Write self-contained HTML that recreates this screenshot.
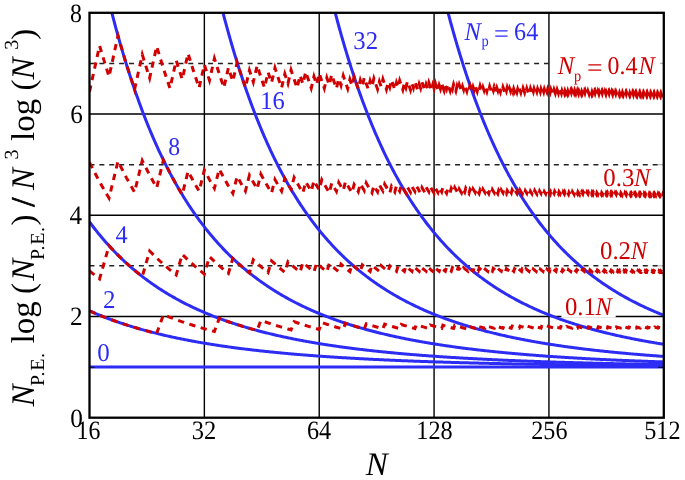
<!DOCTYPE html><html><head><meta charset="utf-8"><style>html,body{margin:0;padding:0;background:#fff;overflow:hidden}svg{display:block;will-change:transform}text{font-family:"Liberation Serif",serif;text-rendering:geometricPrecision}</style></head><body><svg width="685" height="480" viewBox="0 0 685 480"><defs><clipPath id="c"><rect x="89.5" y="12.8" width="574.3" height="404.9"/></clipPath></defs><path d="M204.36 12.8V417.7M319.22 12.8V417.7M434.08 12.8V417.7M548.94 12.8V417.7M89.5 316.48H663.8M89.5 215.25H663.8M89.5 114.03H663.8" stroke="#000" stroke-width="1.4" fill="none"/><path d="M89.5 265.86H663.8M89.5 164.64H663.8M89.5 63.41H663.8" stroke="#222" stroke-width="1.5" stroke-dasharray="5.0 4.88" fill="none"/><path d="M658.2 265.86H662.6M658.2 164.64H662.6M658.2 63.41H662.6" stroke="#b4b4b4" stroke-width="1.3" fill="none"/><rect x="550.3" y="50" width="109.7" height="30" fill="#fff"/><rect x="561.4" y="296" width="54.3" height="21.6" fill="#fff"/><g clip-path="url(#c)" fill="none" stroke="#2c2cf4" stroke-width="3.0"><path d="M89.5 367.09 L90.46 367.09 L91.41 367.09 L92.37 367.09 L93.33 367.09 L94.29 367.09 L95.24 367.09 L96.2 367.09 L97.16 367.09 L98.11 367.09 L99.07 367.09 L100.03 367.09 L100.99 367.09 L101.94 367.09 L102.9 367.09 L103.86 367.09 L104.81 367.09 L105.77 367.09 L106.73 367.09 L107.69 367.09 L108.64 367.09 L109.6 367.09 L110.56 367.09 L111.51 367.09 L112.47 367.09 L113.43 367.09 L114.39 367.09 L115.34 367.09 L116.3 367.09 L117.26 367.09 L118.21 367.09 L119.17 367.09 L120.13 367.09 L121.09 367.09 L122.04 367.09 L123 367.09 L123.96 367.09 L124.92 367.09 L125.87 367.09 L126.83 367.09 L127.79 367.09 L128.74 367.09 L129.7 367.09 L130.66 367.09 L131.62 367.09 L132.57 367.09 L133.53 367.09 L134.49 367.09 L135.44 367.09 L136.4 367.09 L137.36 367.09 L138.32 367.09 L139.27 367.09 L140.23 367.09 L141.19 367.09 L142.14 367.09 L143.1 367.09 L144.06 367.09 L145.02 367.09 L145.97 367.09 L146.93 367.09 L147.89 367.09 L148.84 367.09 L149.8 367.09 L150.76 367.09 L151.72 367.09 L152.67 367.09 L153.63 367.09 L154.59 367.09 L155.54 367.09 L156.5 367.09 L157.46 367.09 L158.42 367.09 L159.37 367.09 L160.33 367.09 L161.29 367.09 L162.24 367.09 L163.2 367.09 L164.16 367.09 L165.12 367.09 L166.07 367.09 L167.03 367.09 L167.99 367.09 L168.94 367.09 L169.9 367.09 L170.86 367.09 L171.82 367.09 L172.77 367.09 L173.73 367.09 L174.69 367.09 L175.64 367.09 L176.6 367.09 L177.56 367.09 L178.52 367.09 L179.47 367.09 L180.43 367.09 L181.39 367.09 L182.35 367.09 L183.3 367.09 L184.26 367.09 L185.22 367.09 L186.17 367.09 L187.13 367.09 L188.09 367.09 L189.05 367.09 L190 367.09 L190.96 367.09 L191.92 367.09 L192.87 367.09 L193.83 367.09 L194.79 367.09 L195.75 367.09 L196.7 367.09 L197.66 367.09 L198.62 367.09 L199.57 367.09 L200.53 367.09 L201.49 367.09 L202.45 367.09 L203.4 367.09 L204.36 367.09 L205.32 367.09 L206.27 367.09 L207.23 367.09 L208.19 367.09 L209.15 367.09 L210.1 367.09 L211.06 367.09 L212.02 367.09 L212.97 367.09 L213.93 367.09 L214.89 367.09 L215.85 367.09 L216.8 367.09 L217.76 367.09 L218.72 367.09 L219.67 367.09 L220.63 367.09 L221.59 367.09 L222.55 367.09 L223.5 367.09 L224.46 367.09 L225.42 367.09 L226.37 367.09 L227.33 367.09 L228.29 367.09 L229.25 367.09 L230.2 367.09 L231.16 367.09 L232.12 367.09 L233.07 367.09 L234.03 367.09 L234.99 367.09 L235.95 367.09 L236.9 367.09 L237.86 367.09 L238.82 367.09 L239.78 367.09 L240.73 367.09 L241.69 367.09 L242.65 367.09 L243.6 367.09 L244.56 367.09 L245.52 367.09 L246.48 367.09 L247.43 367.09 L248.39 367.09 L249.35 367.09 L250.3 367.09 L251.26 367.09 L252.22 367.09 L253.18 367.09 L254.13 367.09 L255.09 367.09 L256.05 367.09 L257 367.09 L257.96 367.09 L258.92 367.09 L259.88 367.09 L260.83 367.09 L261.79 367.09 L262.75 367.09 L263.7 367.09 L264.66 367.09 L265.62 367.09 L266.58 367.09 L267.53 367.09 L268.49 367.09 L269.45 367.09 L270.4 367.09 L271.36 367.09 L272.32 367.09 L273.28 367.09 L274.23 367.09 L275.19 367.09 L276.15 367.09 L277.1 367.09 L278.06 367.09 L279.02 367.09 L279.98 367.09 L280.93 367.09 L281.89 367.09 L282.85 367.09 L283.8 367.09 L284.76 367.09 L285.72 367.09 L286.68 367.09 L287.63 367.09 L288.59 367.09 L289.55 367.09 L290.5 367.09 L291.46 367.09 L292.42 367.09 L293.38 367.09 L294.33 367.09 L295.29 367.09 L296.25 367.09 L297.21 367.09 L298.16 367.09 L299.12 367.09 L300.08 367.09 L301.03 367.09 L301.99 367.09 L302.95 367.09 L303.91 367.09 L304.86 367.09 L305.82 367.09 L306.78 367.09 L307.73 367.09 L308.69 367.09 L309.65 367.09 L310.61 367.09 L311.56 367.09 L312.52 367.09 L313.48 367.09 L314.43 367.09 L315.39 367.09 L316.35 367.09 L317.31 367.09 L318.26 367.09 L319.22 367.09 L320.18 367.09 L321.13 367.09 L322.09 367.09 L323.05 367.09 L324.01 367.09 L324.96 367.09 L325.92 367.09 L326.88 367.09 L327.83 367.09 L328.79 367.09 L329.75 367.09 L330.71 367.09 L331.66 367.09 L332.62 367.09 L333.58 367.09 L334.53 367.09 L335.49 367.09 L336.45 367.09 L337.41 367.09 L338.36 367.09 L339.32 367.09 L340.28 367.09 L341.23 367.09 L342.19 367.09 L343.15 367.09 L344.11 367.09 L345.06 367.09 L346.02 367.09 L346.98 367.09 L347.93 367.09 L348.89 367.09 L349.85 367.09 L350.81 367.09 L351.76 367.09 L352.72 367.09 L353.68 367.09 L354.64 367.09 L355.59 367.09 L356.55 367.09 L357.51 367.09 L358.46 367.09 L359.42 367.09 L360.38 367.09 L361.34 367.09 L362.29 367.09 L363.25 367.09 L364.21 367.09 L365.16 367.09 L366.12 367.09 L367.08 367.09 L368.04 367.09 L368.99 367.09 L369.95 367.09 L370.91 367.09 L371.86 367.09 L372.82 367.09 L373.78 367.09 L374.74 367.09 L375.69 367.09 L376.65 367.09 L377.61 367.09 L378.56 367.09 L379.52 367.09 L380.48 367.09 L381.44 367.09 L382.39 367.09 L383.35 367.09 L384.31 367.09 L385.26 367.09 L386.22 367.09 L387.18 367.09 L388.14 367.09 L389.09 367.09 L390.05 367.09 L391.01 367.09 L391.96 367.09 L392.92 367.09 L393.88 367.09 L394.84 367.09 L395.79 367.09 L396.75 367.09 L397.71 367.09 L398.66 367.09 L399.62 367.09 L400.58 367.09 L401.54 367.09 L402.49 367.09 L403.45 367.09 L404.41 367.09 L405.36 367.09 L406.32 367.09 L407.28 367.09 L408.24 367.09 L409.19 367.09 L410.15 367.09 L411.11 367.09 L412.07 367.09 L413.02 367.09 L413.98 367.09 L414.94 367.09 L415.89 367.09 L416.85 367.09 L417.81 367.09 L418.77 367.09 L419.72 367.09 L420.68 367.09 L421.64 367.09 L422.59 367.09 L423.55 367.09 L424.51 367.09 L425.47 367.09 L426.42 367.09 L427.38 367.09 L428.34 367.09 L429.29 367.09 L430.25 367.09 L431.21 367.09 L432.17 367.09 L433.12 367.09 L434.08 367.09 L435.04 367.09 L435.99 367.09 L436.95 367.09 L437.91 367.09 L438.87 367.09 L439.82 367.09 L440.78 367.09 L441.74 367.09 L442.69 367.09 L443.65 367.09 L444.61 367.09 L445.57 367.09 L446.52 367.09 L447.48 367.09 L448.44 367.09 L449.39 367.09 L450.35 367.09 L451.31 367.09 L452.27 367.09 L453.22 367.09 L454.18 367.09 L455.14 367.09 L456.09 367.09 L457.05 367.09 L458.01 367.09 L458.97 367.09 L459.92 367.09 L460.88 367.09 L461.84 367.09 L462.79 367.09 L463.75 367.09 L464.71 367.09 L465.67 367.09 L466.62 367.09 L467.58 367.09 L468.54 367.09 L469.5 367.09 L470.45 367.09 L471.41 367.09 L472.37 367.09 L473.32 367.09 L474.28 367.09 L475.24 367.09 L476.2 367.09 L477.15 367.09 L478.11 367.09 L479.07 367.09 L480.02 367.09 L480.98 367.09 L481.94 367.09 L482.9 367.09 L483.85 367.09 L484.81 367.09 L485.77 367.09 L486.72 367.09 L487.68 367.09 L488.64 367.09 L489.6 367.09 L490.55 367.09 L491.51 367.09 L492.47 367.09 L493.42 367.09 L494.38 367.09 L495.34 367.09 L496.3 367.09 L497.25 367.09 L498.21 367.09 L499.17 367.09 L500.12 367.09 L501.08 367.09 L502.04 367.09 L503 367.09 L503.95 367.09 L504.91 367.09 L505.87 367.09 L506.82 367.09 L507.78 367.09 L508.74 367.09 L509.7 367.09 L510.65 367.09 L511.61 367.09 L512.57 367.09 L513.52 367.09 L514.48 367.09 L515.44 367.09 L516.4 367.09 L517.35 367.09 L518.31 367.09 L519.27 367.09 L520.22 367.09 L521.18 367.09 L522.14 367.09 L523.1 367.09 L524.05 367.09 L525.01 367.09 L525.97 367.09 L526.93 367.09 L527.88 367.09 L528.84 367.09 L529.8 367.09 L530.75 367.09 L531.71 367.09 L532.67 367.09 L533.63 367.09 L534.58 367.09 L535.54 367.09 L536.5 367.09 L537.45 367.09 L538.41 367.09 L539.37 367.09 L540.33 367.09 L541.28 367.09 L542.24 367.09 L543.2 367.09 L544.15 367.09 L545.11 367.09 L546.07 367.09 L547.03 367.09 L547.98 367.09 L548.94 367.09 L549.9 367.09 L550.85 367.09 L551.81 367.09 L552.77 367.09 L553.73 367.09 L554.68 367.09 L555.64 367.09 L556.6 367.09 L557.55 367.09 L558.51 367.09 L559.47 367.09 L560.43 367.09 L561.38 367.09 L562.34 367.09 L563.3 367.09 L564.25 367.09 L565.21 367.09 L566.17 367.09 L567.13 367.09 L568.08 367.09 L569.04 367.09 L570 367.09 L570.95 367.09 L571.91 367.09 L572.87 367.09 L573.83 367.09 L574.78 367.09 L575.74 367.09 L576.7 367.09 L577.65 367.09 L578.61 367.09 L579.57 367.09 L580.53 367.09 L581.48 367.09 L582.44 367.09 L583.4 367.09 L584.36 367.09 L585.31 367.09 L586.27 367.09 L587.23 367.09 L588.18 367.09 L589.14 367.09 L590.1 367.09 L591.06 367.09 L592.01 367.09 L592.97 367.09 L593.93 367.09 L594.88 367.09 L595.84 367.09 L596.8 367.09 L597.76 367.09 L598.71 367.09 L599.67 367.09 L600.63 367.09 L601.58 367.09 L602.54 367.09 L603.5 367.09 L604.46 367.09 L605.41 367.09 L606.37 367.09 L607.33 367.09 L608.28 367.09 L609.24 367.09 L610.2 367.09 L611.16 367.09 L612.11 367.09 L613.07 367.09 L614.03 367.09 L614.98 367.09 L615.94 367.09 L616.9 367.09 L617.86 367.09 L618.81 367.09 L619.77 367.09 L620.73 367.09 L621.68 367.09 L622.64 367.09 L623.6 367.09 L624.56 367.09 L625.51 367.09 L626.47 367.09 L627.43 367.09 L628.38 367.09 L629.34 367.09 L630.3 367.09 L631.26 367.09 L632.21 367.09 L633.17 367.09 L634.13 367.09 L635.08 367.09 L636.04 367.09 L637 367.09 L637.96 367.09 L638.91 367.09 L639.87 367.09 L640.83 367.09 L641.79 367.09 L642.74 367.09 L643.7 367.09 L644.66 367.09 L645.61 367.09 L646.57 367.09 L647.53 367.09 L648.49 367.09 L649.44 367.09 L650.4 367.09 L651.36 367.09 L652.31 367.09 L653.27 367.09 L654.23 367.09 L655.19 367.09 L656.14 367.09 L657.1 367.09 L658.06 367.09 L659.01 367.09 L659.97 367.09 L660.93 367.09 L661.89 367.09 L662.84 367.09 L663.8 367.09"/><path d="M89.5 310.89 L90.46 311.32 L91.41 311.74 L92.37 312.16 L93.33 312.57 L94.29 312.98 L95.24 313.39 L96.2 313.8 L97.16 314.2 L98.11 314.59 L99.07 314.99 L100.03 315.38 L100.99 315.76 L101.94 316.15 L102.9 316.53 L103.86 316.9 L104.81 317.28 L105.77 317.65 L106.73 318.01 L107.69 318.38 L108.64 318.74 L109.6 319.09 L110.56 319.45 L111.51 319.8 L112.47 320.15 L113.43 320.49 L114.39 320.84 L115.34 321.18 L116.3 321.51 L117.26 321.85 L118.21 322.18 L119.17 322.5 L120.13 322.83 L121.09 323.15 L122.04 323.47 L123 323.79 L123.96 324.1 L124.92 324.42 L125.87 324.72 L126.83 325.03 L127.79 325.34 L128.74 325.64 L129.7 325.94 L130.66 326.23 L131.62 326.53 L132.57 326.82 L133.53 327.11 L134.49 327.39 L135.44 327.68 L136.4 327.96 L137.36 328.24 L138.32 328.52 L139.27 328.79 L140.23 329.07 L141.19 329.34 L142.14 329.61 L143.1 329.87 L144.06 330.14 L145.02 330.4 L145.97 330.66 L146.93 330.92 L147.89 331.17 L148.84 331.43 L149.8 331.68 L150.76 331.93 L151.72 332.18 L152.67 332.42 L153.63 332.67 L154.59 332.91 L155.54 333.15 L156.5 333.38 L157.46 333.62 L158.42 333.85 L159.37 334.09 L160.33 334.32 L161.29 334.55 L162.24 334.77 L163.2 335 L164.16 335.22 L165.12 335.44 L166.07 335.66 L167.03 335.88 L167.99 336.1 L168.94 336.31 L169.9 336.52 L170.86 336.73 L171.82 336.94 L172.77 337.15 L173.73 337.36 L174.69 337.56 L175.64 337.77 L176.6 337.97 L177.56 338.17 L178.52 338.37 L179.47 338.56 L180.43 338.76 L181.39 338.95 L182.35 339.15 L183.3 339.34 L184.26 339.53 L185.22 339.71 L186.17 339.9 L187.13 340.09 L188.09 340.27 L189.05 340.45 L190 340.63 L190.96 340.81 L191.92 340.99 L192.87 341.17 L193.83 341.34 L194.79 341.52 L195.75 341.69 L196.7 341.86 L197.66 342.03 L198.62 342.2 L199.57 342.37 L200.53 342.53 L201.49 342.7 L202.45 342.86 L203.4 343.03 L204.36 343.19 L205.32 343.35 L206.27 343.51 L207.23 343.66 L208.19 343.82 L209.15 343.98 L210.1 344.13 L211.06 344.28 L212.02 344.44 L212.97 344.59 L213.93 344.74 L214.89 344.89 L215.85 345.03 L216.8 345.18 L217.76 345.33 L218.72 345.47 L219.67 345.61 L220.63 345.76 L221.59 345.9 L222.55 346.04 L223.5 346.18 L224.46 346.32 L225.42 346.45 L226.37 346.59 L227.33 346.72 L228.29 346.86 L229.25 346.99 L230.2 347.12 L231.16 347.26 L232.12 347.39 L233.07 347.52 L234.03 347.64 L234.99 347.77 L235.95 347.9 L236.9 348.02 L237.86 348.15 L238.82 348.27 L239.78 348.4 L240.73 348.52 L241.69 348.64 L242.65 348.76 L243.6 348.88 L244.56 349 L245.52 349.12 L246.48 349.23 L247.43 349.35 L248.39 349.46 L249.35 349.58 L250.3 349.69 L251.26 349.81 L252.22 349.92 L253.18 350.03 L254.13 350.14 L255.09 350.25 L256.05 350.36 L257 350.47 L257.96 350.57 L258.92 350.68 L259.88 350.79 L260.83 350.89 L261.79 351 L262.75 351.1 L263.7 351.2 L264.66 351.3 L265.62 351.41 L266.58 351.51 L267.53 351.61 L268.49 351.71 L269.45 351.81 L270.4 351.9 L271.36 352 L272.32 352.1 L273.28 352.19 L274.23 352.29 L275.19 352.38 L276.15 352.48 L277.1 352.57 L278.06 352.66 L279.02 352.76 L279.98 352.85 L280.93 352.94 L281.89 353.03 L282.85 353.12 L283.8 353.21 L284.76 353.3 L285.72 353.38 L286.68 353.47 L287.63 353.56 L288.59 353.64 L289.55 353.73 L290.5 353.81 L291.46 353.9 L292.42 353.98 L293.38 354.06 L294.33 354.15 L295.29 354.23 L296.25 354.31 L297.21 354.39 L298.16 354.47 L299.12 354.55 L300.08 354.63 L301.03 354.71 L301.99 354.79 L302.95 354.87 L303.91 354.94 L304.86 355.02 L305.82 355.09 L306.78 355.17 L307.73 355.25 L308.69 355.32 L309.65 355.39 L310.61 355.47 L311.56 355.54 L312.52 355.61 L313.48 355.68 L314.43 355.76 L315.39 355.83 L316.35 355.9 L317.31 355.97 L318.26 356.04 L319.22 356.11 L320.18 356.18 L321.13 356.24 L322.09 356.31 L323.05 356.38 L324.01 356.45 L324.96 356.51 L325.92 356.58 L326.88 356.64 L327.83 356.71 L328.79 356.77 L329.75 356.84 L330.71 356.9 L331.66 356.97 L332.62 357.03 L333.58 357.09 L334.53 357.15 L335.49 357.22 L336.45 357.28 L337.41 357.34 L338.36 357.4 L339.32 357.46 L340.28 357.52 L341.23 357.58 L342.19 357.64 L343.15 357.7 L344.11 357.75 L345.06 357.81 L346.02 357.87 L346.98 357.93 L347.93 357.98 L348.89 358.04 L349.85 358.1 L350.81 358.15 L351.76 358.21 L352.72 358.26 L353.68 358.32 L354.64 358.37 L355.59 358.42 L356.55 358.48 L357.51 358.53 L358.46 358.58 L359.42 358.64 L360.38 358.69 L361.34 358.74 L362.29 358.79 L363.25 358.84 L364.21 358.89 L365.16 358.94 L366.12 358.99 L367.08 359.04 L368.04 359.09 L368.99 359.14 L369.95 359.19 L370.91 359.24 L371.86 359.29 L372.82 359.33 L373.78 359.38 L374.74 359.43 L375.69 359.48 L376.65 359.52 L377.61 359.57 L378.56 359.62 L379.52 359.66 L380.48 359.71 L381.44 359.75 L382.39 359.8 L383.35 359.84 L384.31 359.89 L385.26 359.93 L386.22 359.97 L387.18 360.02 L388.14 360.06 L389.09 360.1 L390.05 360.15 L391.01 360.19 L391.96 360.23 L392.92 360.27 L393.88 360.31 L394.84 360.35 L395.79 360.4 L396.75 360.44 L397.71 360.48 L398.66 360.52 L399.62 360.56 L400.58 360.6 L401.54 360.64 L402.49 360.68 L403.45 360.71 L404.41 360.75 L405.36 360.79 L406.32 360.83 L407.28 360.87 L408.24 360.91 L409.19 360.94 L410.15 360.98 L411.11 361.02 L412.07 361.05 L413.02 361.09 L413.98 361.13 L414.94 361.16 L415.89 361.2 L416.85 361.24 L417.81 361.27 L418.77 361.31 L419.72 361.34 L420.68 361.38 L421.64 361.41 L422.59 361.44 L423.55 361.48 L424.51 361.51 L425.47 361.55 L426.42 361.58 L427.38 361.61 L428.34 361.65 L429.29 361.68 L430.25 361.71 L431.21 361.74 L432.17 361.78 L433.12 361.81 L434.08 361.84 L435.04 361.87 L435.99 361.9 L436.95 361.94 L437.91 361.97 L438.87 362 L439.82 362.03 L440.78 362.06 L441.74 362.09 L442.69 362.12 L443.65 362.15 L444.61 362.18 L445.57 362.21 L446.52 362.24 L447.48 362.27 L448.44 362.3 L449.39 362.32 L450.35 362.35 L451.31 362.38 L452.27 362.41 L453.22 362.44 L454.18 362.47 L455.14 362.49 L456.09 362.52 L457.05 362.55 L458.01 362.58 L458.97 362.6 L459.92 362.63 L460.88 362.66 L461.84 362.68 L462.79 362.71 L463.75 362.74 L464.71 362.76 L465.67 362.79 L466.62 362.81 L467.58 362.84 L468.54 362.86 L469.5 362.89 L470.45 362.91 L471.41 362.94 L472.37 362.96 L473.32 362.99 L474.28 363.01 L475.24 363.04 L476.2 363.06 L477.15 363.09 L478.11 363.11 L479.07 363.13 L480.02 363.16 L480.98 363.18 L481.94 363.2 L482.9 363.23 L483.85 363.25 L484.81 363.27 L485.77 363.3 L486.72 363.32 L487.68 363.34 L488.64 363.36 L489.6 363.39 L490.55 363.41 L491.51 363.43 L492.47 363.45 L493.42 363.47 L494.38 363.5 L495.34 363.52 L496.3 363.54 L497.25 363.56 L498.21 363.58 L499.17 363.6 L500.12 363.62 L501.08 363.64 L502.04 363.66 L503 363.68 L503.95 363.7 L504.91 363.72 L505.87 363.74 L506.82 363.76 L507.78 363.78 L508.74 363.8 L509.7 363.82 L510.65 363.84 L511.61 363.86 L512.57 363.88 L513.52 363.9 L514.48 363.92 L515.44 363.94 L516.4 363.96 L517.35 363.97 L518.31 363.99 L519.27 364.01 L520.22 364.03 L521.18 364.05 L522.14 364.07 L523.1 364.08 L524.05 364.1 L525.01 364.12 L525.97 364.14 L526.93 364.15 L527.88 364.17 L528.84 364.19 L529.8 364.21 L530.75 364.22 L531.71 364.24 L532.67 364.26 L533.63 364.27 L534.58 364.29 L535.54 364.31 L536.5 364.32 L537.45 364.34 L538.41 364.36 L539.37 364.37 L540.33 364.39 L541.28 364.41 L542.24 364.42 L543.2 364.44 L544.15 364.45 L545.11 364.47 L546.07 364.48 L547.03 364.5 L547.98 364.51 L548.94 364.53 L549.9 364.54 L550.85 364.56 L551.81 364.57 L552.77 364.59 L553.73 364.6 L554.68 364.62 L555.64 364.63 L556.6 364.65 L557.55 364.66 L558.51 364.68 L559.47 364.69 L560.43 364.71 L561.38 364.72 L562.34 364.73 L563.3 364.75 L564.25 364.76 L565.21 364.77 L566.17 364.79 L567.13 364.8 L568.08 364.82 L569.04 364.83 L570 364.84 L570.95 364.86 L571.91 364.87 L572.87 364.88 L573.83 364.89 L574.78 364.91 L575.74 364.92 L576.7 364.93 L577.65 364.95 L578.61 364.96 L579.57 364.97 L580.53 364.98 L581.48 365 L582.44 365.01 L583.4 365.02 L584.36 365.03 L585.31 365.04 L586.27 365.06 L587.23 365.07 L588.18 365.08 L589.14 365.09 L590.1 365.1 L591.06 365.12 L592.01 365.13 L592.97 365.14 L593.93 365.15 L594.88 365.16 L595.84 365.17 L596.8 365.18 L597.76 365.2 L598.71 365.21 L599.67 365.22 L600.63 365.23 L601.58 365.24 L602.54 365.25 L603.5 365.26 L604.46 365.27 L605.41 365.28 L606.37 365.29 L607.33 365.3 L608.28 365.31 L609.24 365.33 L610.2 365.34 L611.16 365.35 L612.11 365.36 L613.07 365.37 L614.03 365.38 L614.98 365.39 L615.94 365.4 L616.9 365.41 L617.86 365.42 L618.81 365.43 L619.77 365.44 L620.73 365.45 L621.68 365.46 L622.64 365.46 L623.6 365.47 L624.56 365.48 L625.51 365.49 L626.47 365.5 L627.43 365.51 L628.38 365.52 L629.34 365.53 L630.3 365.54 L631.26 365.55 L632.21 365.56 L633.17 365.57 L634.13 365.58 L635.08 365.58 L636.04 365.59 L637 365.6 L637.96 365.61 L638.91 365.62 L639.87 365.63 L640.83 365.64 L641.79 365.64 L642.74 365.65 L643.7 365.66 L644.66 365.67 L645.61 365.68 L646.57 365.69 L647.53 365.69 L648.49 365.7 L649.44 365.71 L650.4 365.72 L651.36 365.73 L652.31 365.74 L653.27 365.74 L654.23 365.75 L655.19 365.76 L656.14 365.77 L657.1 365.77 L658.06 365.78 L659.01 365.79 L659.97 365.8 L660.93 365.8 L661.89 365.81 L662.84 365.82 L663.8 365.83"/><path d="M89.5 221.9 L90.46 223.2 L91.41 224.48 L92.37 225.74 L93.33 227 L94.29 228.24 L95.24 229.47 L96.2 230.68 L97.16 231.88 L98.11 233.07 L99.07 234.25 L100.03 235.41 L100.99 236.56 L101.94 237.7 L102.9 238.83 L103.86 239.94 L104.81 241.05 L105.77 242.14 L106.73 243.22 L107.69 244.29 L108.64 245.35 L109.6 246.4 L110.56 247.44 L111.51 248.46 L112.47 249.48 L113.43 250.49 L114.39 251.48 L115.34 252.47 L116.3 253.44 L117.26 254.41 L118.21 255.36 L119.17 256.31 L120.13 257.24 L121.09 258.17 L122.04 259.09 L123 260 L123.96 260.9 L124.92 261.79 L125.87 262.67 L126.83 263.54 L127.79 264.41 L128.74 265.26 L129.7 266.11 L130.66 266.95 L131.62 267.78 L132.57 268.6 L133.53 269.41 L134.49 270.22 L135.44 271.02 L136.4 271.81 L137.36 272.59 L138.32 273.36 L139.27 274.13 L140.23 274.89 L141.19 275.64 L142.14 276.39 L143.1 277.13 L144.06 277.86 L145.02 278.58 L145.97 279.3 L146.93 280.01 L147.89 280.71 L148.84 281.41 L149.8 282.1 L150.76 282.78 L151.72 283.46 L152.67 284.13 L153.63 284.79 L154.59 285.45 L155.54 286.1 L156.5 286.74 L157.46 287.38 L158.42 288.02 L159.37 288.64 L160.33 289.27 L161.29 289.88 L162.24 290.49 L163.2 291.09 L164.16 291.69 L165.12 292.29 L166.07 292.87 L167.03 293.46 L167.99 294.03 L168.94 294.6 L169.9 295.17 L170.86 295.73 L171.82 296.29 L172.77 296.84 L173.73 297.38 L174.69 297.92 L175.64 298.46 L176.6 298.99 L177.56 299.52 L178.52 300.04 L179.47 300.55 L180.43 301.07 L181.39 301.57 L182.35 302.08 L183.3 302.57 L184.26 303.07 L185.22 303.56 L186.17 304.04 L187.13 304.52 L188.09 305 L189.05 305.47 L190 305.94 L190.96 306.4 L191.92 306.86 L192.87 307.32 L193.83 307.77 L194.79 308.22 L195.75 308.66 L196.7 309.1 L197.66 309.54 L198.62 309.97 L199.57 310.4 L200.53 310.82 L201.49 311.24 L202.45 311.66 L203.4 312.07 L204.36 312.48 L205.32 312.89 L206.27 313.29 L207.23 313.69 L208.19 314.09 L209.15 314.48 L210.1 314.87 L211.06 315.26 L212.02 315.64 L212.97 316.02 L213.93 316.39 L214.89 316.77 L215.85 317.14 L216.8 317.5 L217.76 317.87 L218.72 318.23 L219.67 318.58 L220.63 318.94 L221.59 319.29 L222.55 319.64 L223.5 319.98 L224.46 320.33 L225.42 320.67 L226.37 321 L227.33 321.34 L228.29 321.67 L229.25 322 L230.2 322.32 L231.16 322.65 L232.12 322.97 L233.07 323.28 L234.03 323.6 L234.99 323.91 L235.95 324.22 L236.9 324.53 L237.86 324.83 L238.82 325.14 L239.78 325.44 L240.73 325.73 L241.69 326.03 L242.65 326.32 L243.6 326.61 L244.56 326.9 L245.52 327.18 L246.48 327.47 L247.43 327.75 L248.39 328.03 L249.35 328.3 L250.3 328.58 L251.26 328.85 L252.22 329.12 L253.18 329.39 L254.13 329.65 L255.09 329.91 L256.05 330.18 L257 330.44 L257.96 330.69 L258.92 330.95 L259.88 331.2 L260.83 331.45 L261.79 331.7 L262.75 331.95 L263.7 332.19 L264.66 332.44 L265.62 332.68 L266.58 332.92 L267.53 333.15 L268.49 333.39 L269.45 333.62 L270.4 333.85 L271.36 334.08 L272.32 334.31 L273.28 334.54 L274.23 334.76 L275.19 334.99 L276.15 335.21 L277.1 335.43 L278.06 335.64 L279.02 335.86 L279.98 336.08 L280.93 336.29 L281.89 336.5 L282.85 336.71 L283.8 336.92 L284.76 337.12 L285.72 337.33 L286.68 337.53 L287.63 337.73 L288.59 337.93 L289.55 338.13 L290.5 338.33 L291.46 338.52 L292.42 338.72 L293.38 338.91 L294.33 339.1 L295.29 339.29 L296.25 339.48 L297.21 339.67 L298.16 339.85 L299.12 340.04 L300.08 340.22 L301.03 340.4 L301.99 340.58 L302.95 340.76 L303.91 340.93 L304.86 341.11 L305.82 341.28 L306.78 341.46 L307.73 341.63 L308.69 341.8 L309.65 341.97 L310.61 342.14 L311.56 342.3 L312.52 342.47 L313.48 342.63 L314.43 342.8 L315.39 342.96 L316.35 343.12 L317.31 343.28 L318.26 343.44 L319.22 343.6 L320.18 343.75 L321.13 343.91 L322.09 344.06 L323.05 344.21 L324.01 344.36 L324.96 344.51 L325.92 344.66 L326.88 344.81 L327.83 344.96 L328.79 345.11 L329.75 345.25 L330.71 345.39 L331.66 345.54 L332.62 345.68 L333.58 345.82 L334.53 345.96 L335.49 346.1 L336.45 346.24 L337.41 346.37 L338.36 346.51 L339.32 346.64 L340.28 346.78 L341.23 346.91 L342.19 347.04 L343.15 347.17 L344.11 347.3 L345.06 347.43 L346.02 347.56 L346.98 347.69 L347.93 347.82 L348.89 347.94 L349.85 348.07 L350.81 348.19 L351.76 348.31 L352.72 348.43 L353.68 348.55 L354.64 348.68 L355.59 348.79 L356.55 348.91 L357.51 349.03 L358.46 349.15 L359.42 349.26 L360.38 349.38 L361.34 349.49 L362.29 349.61 L363.25 349.72 L364.21 349.83 L365.16 349.94 L366.12 350.05 L367.08 350.16 L368.04 350.27 L368.99 350.38 L369.95 350.49 L370.91 350.59 L371.86 350.7 L372.82 350.81 L373.78 350.91 L374.74 351.01 L375.69 351.12 L376.65 351.22 L377.61 351.32 L378.56 351.42 L379.52 351.52 L380.48 351.62 L381.44 351.72 L382.39 351.82 L383.35 351.92 L384.31 352.01 L385.26 352.11 L386.22 352.2 L387.18 352.3 L388.14 352.39 L389.09 352.49 L390.05 352.58 L391.01 352.67 L391.96 352.76 L392.92 352.85 L393.88 352.94 L394.84 353.03 L395.79 353.12 L396.75 353.21 L397.71 353.3 L398.66 353.39 L399.62 353.47 L400.58 353.56 L401.54 353.64 L402.49 353.73 L403.45 353.81 L404.41 353.9 L405.36 353.98 L406.32 354.06 L407.28 354.15 L408.24 354.23 L409.19 354.31 L410.15 354.39 L411.11 354.47 L412.07 354.55 L413.02 354.63 L413.98 354.71 L414.94 354.78 L415.89 354.86 L416.85 354.94 L417.81 355.01 L418.77 355.09 L419.72 355.16 L420.68 355.24 L421.64 355.31 L422.59 355.39 L423.55 355.46 L424.51 355.53 L425.47 355.6 L426.42 355.68 L427.38 355.75 L428.34 355.82 L429.29 355.89 L430.25 355.96 L431.21 356.03 L432.17 356.1 L433.12 356.17 L434.08 356.23 L435.04 356.3 L435.99 356.37 L436.95 356.44 L437.91 356.5 L438.87 356.57 L439.82 356.63 L440.78 356.7 L441.74 356.76 L442.69 356.83 L443.65 356.89 L444.61 356.95 L445.57 357.02 L446.52 357.08 L447.48 357.14 L448.44 357.2 L449.39 357.26 L450.35 357.32 L451.31 357.38 L452.27 357.44 L453.22 357.5 L454.18 357.56 L455.14 357.62 L456.09 357.68 L457.05 357.74 L458.01 357.8 L458.97 357.85 L459.92 357.91 L460.88 357.97 L461.84 358.02 L462.79 358.08 L463.75 358.13 L464.71 358.19 L465.67 358.24 L466.62 358.3 L467.58 358.35 L468.54 358.41 L469.5 358.46 L470.45 358.51 L471.41 358.57 L472.37 358.62 L473.32 358.67 L474.28 358.72 L475.24 358.77 L476.2 358.82 L477.15 358.87 L478.11 358.93 L479.07 358.98 L480.02 359.02 L480.98 359.07 L481.94 359.12 L482.9 359.17 L483.85 359.22 L484.81 359.27 L485.77 359.32 L486.72 359.36 L487.68 359.41 L488.64 359.46 L489.6 359.5 L490.55 359.55 L491.51 359.6 L492.47 359.64 L493.42 359.69 L494.38 359.73 L495.34 359.78 L496.3 359.82 L497.25 359.87 L498.21 359.91 L499.17 359.95 L500.12 360 L501.08 360.04 L502.04 360.08 L503 360.13 L503.95 360.17 L504.91 360.21 L505.87 360.25 L506.82 360.29 L507.78 360.34 L508.74 360.38 L509.7 360.42 L510.65 360.46 L511.61 360.5 L512.57 360.54 L513.52 360.58 L514.48 360.62 L515.44 360.66 L516.4 360.7 L517.35 360.73 L518.31 360.77 L519.27 360.81 L520.22 360.85 L521.18 360.89 L522.14 360.92 L523.1 360.96 L524.05 361 L525.01 361.04 L525.97 361.07 L526.93 361.11 L527.88 361.14 L528.84 361.18 L529.8 361.22 L530.75 361.25 L531.71 361.29 L532.67 361.32 L533.63 361.36 L534.58 361.39 L535.54 361.43 L536.5 361.46 L537.45 361.49 L538.41 361.53 L539.37 361.56 L540.33 361.59 L541.28 361.63 L542.24 361.66 L543.2 361.69 L544.15 361.73 L545.11 361.76 L546.07 361.79 L547.03 361.82 L547.98 361.85 L548.94 361.88 L549.9 361.92 L550.85 361.95 L551.81 361.98 L552.77 362.01 L553.73 362.04 L554.68 362.07 L555.64 362.1 L556.6 362.13 L557.55 362.16 L558.51 362.19 L559.47 362.22 L560.43 362.25 L561.38 362.28 L562.34 362.31 L563.3 362.33 L564.25 362.36 L565.21 362.39 L566.17 362.42 L567.13 362.45 L568.08 362.47 L569.04 362.5 L570 362.53 L570.95 362.56 L571.91 362.58 L572.87 362.61 L573.83 362.64 L574.78 362.66 L575.74 362.69 L576.7 362.72 L577.65 362.74 L578.61 362.77 L579.57 362.8 L580.53 362.82 L581.48 362.85 L582.44 362.87 L583.4 362.9 L584.36 362.92 L585.31 362.95 L586.27 362.97 L587.23 363 L588.18 363.02 L589.14 363.04 L590.1 363.07 L591.06 363.09 L592.01 363.12 L592.97 363.14 L593.93 363.16 L594.88 363.19 L595.84 363.21 L596.8 363.23 L597.76 363.26 L598.71 363.28 L599.67 363.3 L600.63 363.32 L601.58 363.35 L602.54 363.37 L603.5 363.39 L604.46 363.41 L605.41 363.44 L606.37 363.46 L607.33 363.48 L608.28 363.5 L609.24 363.52 L610.2 363.54 L611.16 363.56 L612.11 363.58 L613.07 363.61 L614.03 363.63 L614.98 363.65 L615.94 363.67 L616.9 363.69 L617.86 363.71 L618.81 363.73 L619.77 363.75 L620.73 363.77 L621.68 363.79 L622.64 363.81 L623.6 363.83 L624.56 363.85 L625.51 363.87 L626.47 363.88 L627.43 363.9 L628.38 363.92 L629.34 363.94 L630.3 363.96 L631.26 363.98 L632.21 364 L633.17 364.01 L634.13 364.03 L635.08 364.05 L636.04 364.07 L637 364.09 L637.96 364.1 L638.91 364.12 L639.87 364.14 L640.83 364.16 L641.79 364.17 L642.74 364.19 L643.7 364.21 L644.66 364.23 L645.61 364.24 L646.57 364.26 L647.53 364.28 L648.49 364.29 L649.44 364.31 L650.4 364.33 L651.36 364.34 L652.31 364.36 L653.27 364.37 L654.23 364.39 L655.19 364.41 L656.14 364.42 L657.1 364.44 L658.06 364.45 L659.01 364.47 L659.97 364.49 L660.93 364.5 L661.89 364.52 L662.84 364.53 L663.8 364.55"/><path d="M89.5 -7.2 L90.46 -7.2 L91.41 -7.2 L92.37 -7.2 L93.33 -7.2 L94.29 -7.2 L95.24 -7.2 L96.2 -7.2 L97.16 -7.2 L98.11 -7.2 L99.07 -7.2 L100.03 -7.2 L100.99 -7.2 L101.94 -7.2 L102.9 -7.2 L103.86 -7.2 L104.81 -7.2 L105.77 -7.2 L106.73 -7.2 L107.69 -3.87 L108.64 0.04 L109.6 3.89 L110.56 7.71 L111.51 11.47 L112.47 15.19 L113.43 18.86 L114.39 22.48 L115.34 26.06 L116.3 29.6 L117.26 33.09 L118.21 36.54 L119.17 39.95 L120.13 43.31 L121.09 46.64 L122.04 49.92 L123 53.16 L123.96 56.37 L124.92 59.53 L125.87 62.66 L126.83 65.75 L127.79 68.8 L128.74 71.81 L129.7 74.79 L130.66 77.73 L131.62 80.64 L132.57 83.51 L133.53 86.35 L134.49 89.16 L135.44 91.93 L136.4 94.67 L137.36 97.37 L138.32 100.05 L139.27 102.69 L140.23 105.3 L141.19 107.88 L142.14 110.43 L143.1 112.95 L144.06 115.44 L145.02 117.9 L145.97 120.33 L146.93 122.74 L147.89 125.11 L148.84 127.46 L149.8 129.78 L150.76 132.08 L151.72 134.35 L152.67 136.59 L153.63 138.81 L154.59 141 L155.54 143.16 L156.5 145.3 L157.46 147.42 L158.42 149.51 L159.37 151.58 L160.33 153.63 L161.29 155.65 L162.24 157.65 L163.2 159.63 L164.16 161.58 L165.12 163.51 L166.07 165.42 L167.03 167.31 L167.99 169.18 L168.94 171.03 L169.9 172.85 L170.86 174.66 L171.82 176.45 L172.77 178.21 L173.73 179.96 L174.69 181.69 L175.64 183.4 L176.6 185.09 L177.56 186.76 L178.52 188.41 L179.47 190.05 L180.43 191.66 L181.39 193.26 L182.35 194.84 L183.3 196.41 L184.26 197.96 L185.22 199.49 L186.17 201 L187.13 202.5 L188.09 203.98 L189.05 205.45 L190 206.9 L190.96 208.34 L191.92 209.75 L192.87 211.16 L193.83 212.55 L194.79 213.92 L195.75 215.28 L196.7 216.63 L197.66 217.96 L198.62 219.28 L199.57 220.58 L200.53 221.87 L201.49 223.15 L202.45 224.41 L203.4 225.66 L204.36 226.9 L205.32 228.12 L206.27 229.33 L207.23 230.53 L208.19 231.72 L209.15 232.89 L210.1 234.05 L211.06 235.2 L212.02 236.34 L212.97 237.47 L213.93 238.58 L214.89 239.69 L215.85 240.78 L216.8 241.86 L217.76 242.93 L218.72 243.99 L219.67 245.04 L220.63 246.07 L221.59 247.1 L222.55 248.12 L223.5 249.13 L224.46 250.12 L225.42 251.11 L226.37 252.08 L227.33 253.05 L228.29 254.01 L229.25 254.96 L230.2 255.9 L231.16 256.82 L232.12 257.74 L233.07 258.65 L234.03 259.56 L234.99 260.45 L235.95 261.33 L236.9 262.21 L237.86 263.07 L238.82 263.93 L239.78 264.78 L240.73 265.62 L241.69 266.46 L242.65 267.28 L243.6 268.1 L244.56 268.91 L245.52 269.71 L246.48 270.51 L247.43 271.29 L248.39 272.07 L249.35 272.84 L250.3 273.6 L251.26 274.36 L252.22 275.11 L253.18 275.85 L254.13 276.59 L255.09 277.31 L256.05 278.04 L257 278.75 L257.96 279.46 L258.92 280.16 L259.88 280.85 L260.83 281.54 L261.79 282.22 L262.75 282.9 L263.7 283.56 L264.66 284.23 L265.62 284.88 L266.58 285.53 L267.53 286.18 L268.49 286.82 L269.45 287.45 L270.4 288.07 L271.36 288.69 L272.32 289.31 L273.28 289.92 L274.23 290.52 L275.19 291.12 L276.15 291.71 L277.1 292.3 L278.06 292.88 L279.02 293.46 L279.98 294.03 L280.93 294.59 L281.89 295.15 L282.85 295.71 L283.8 296.26 L284.76 296.81 L285.72 297.35 L286.68 297.88 L287.63 298.41 L288.59 298.94 L289.55 299.46 L290.5 299.98 L291.46 300.49 L292.42 301 L293.38 301.5 L294.33 302 L295.29 302.5 L296.25 302.99 L297.21 303.47 L298.16 303.95 L299.12 304.43 L300.08 304.9 L301.03 305.37 L301.99 305.84 L302.95 306.3 L303.91 306.75 L304.86 307.21 L305.82 307.65 L306.78 308.1 L307.73 308.54 L308.69 308.98 L309.65 309.41 L310.61 309.84 L311.56 310.27 L312.52 310.69 L313.48 311.11 L314.43 311.52 L315.39 311.93 L316.35 312.34 L317.31 312.75 L318.26 313.15 L319.22 313.54 L320.18 313.94 L321.13 314.33 L322.09 314.72 L323.05 315.1 L324.01 315.48 L324.96 315.86 L325.92 316.23 L326.88 316.6 L327.83 316.97 L328.79 317.34 L329.75 317.7 L330.71 318.06 L331.66 318.42 L332.62 318.77 L333.58 319.12 L334.53 319.47 L335.49 319.81 L336.45 320.15 L337.41 320.49 L338.36 320.83 L339.32 321.16 L340.28 321.49 L341.23 321.82 L342.19 322.14 L343.15 322.46 L344.11 322.78 L345.06 323.1 L346.02 323.41 L346.98 323.73 L347.93 324.04 L348.89 324.34 L349.85 324.65 L350.81 324.95 L351.76 325.25 L352.72 325.54 L353.68 325.84 L354.64 326.13 L355.59 326.42 L356.55 326.71 L357.51 326.99 L358.46 327.28 L359.42 327.56 L360.38 327.84 L361.34 328.11 L362.29 328.39 L363.25 328.66 L364.21 328.93 L365.16 329.19 L366.12 329.46 L367.08 329.72 L368.04 329.98 L368.99 330.24 L369.95 330.5 L370.91 330.75 L371.86 331.01 L372.82 331.26 L373.78 331.51 L374.74 331.75 L375.69 332 L376.65 332.24 L377.61 332.48 L378.56 332.72 L379.52 332.96 L380.48 333.2 L381.44 333.43 L382.39 333.66 L383.35 333.89 L384.31 334.12 L385.26 334.35 L386.22 334.57 L387.18 334.79 L388.14 335.02 L389.09 335.24 L390.05 335.45 L391.01 335.67 L391.96 335.88 L392.92 336.1 L393.88 336.31 L394.84 336.52 L395.79 336.73 L396.75 336.93 L397.71 337.14 L398.66 337.34 L399.62 337.54 L400.58 337.74 L401.54 337.94 L402.49 338.14 L403.45 338.34 L404.41 338.53 L405.36 338.72 L406.32 338.91 L407.28 339.1 L408.24 339.29 L409.19 339.48 L410.15 339.67 L411.11 339.85 L412.07 340.03 L413.02 340.22 L413.98 340.4 L414.94 340.57 L415.89 340.75 L416.85 340.93 L417.81 341.1 L418.77 341.28 L419.72 341.45 L420.68 341.62 L421.64 341.79 L422.59 341.96 L423.55 342.13 L424.51 342.29 L425.47 342.46 L426.42 342.62 L427.38 342.78 L428.34 342.94 L429.29 343.1 L430.25 343.26 L431.21 343.42 L432.17 343.58 L433.12 343.73 L434.08 343.89 L435.04 344.04 L435.99 344.19 L436.95 344.34 L437.91 344.49 L438.87 344.64 L439.82 344.79 L440.78 344.94 L441.74 345.08 L442.69 345.23 L443.65 345.37 L444.61 345.51 L445.57 345.65 L446.52 345.79 L447.48 345.93 L448.44 346.07 L449.39 346.21 L450.35 346.35 L451.31 346.48 L452.27 346.62 L453.22 346.75 L454.18 346.88 L455.14 347.01 L456.09 347.14 L457.05 347.27 L458.01 347.4 L458.97 347.53 L459.92 347.66 L460.88 347.78 L461.84 347.91 L462.79 348.03 L463.75 348.16 L464.71 348.28 L465.67 348.4 L466.62 348.52 L467.58 348.64 L468.54 348.76 L469.5 348.88 L470.45 349 L471.41 349.11 L472.37 349.23 L473.32 349.34 L474.28 349.46 L475.24 349.57 L476.2 349.68 L477.15 349.8 L478.11 349.91 L479.07 350.02 L480.02 350.13 L480.98 350.23 L481.94 350.34 L482.9 350.45 L483.85 350.56 L484.81 350.66 L485.77 350.77 L486.72 350.87 L487.68 350.98 L488.64 351.08 L489.6 351.18 L490.55 351.28 L491.51 351.38 L492.47 351.48 L493.42 351.58 L494.38 351.68 L495.34 351.78 L496.3 351.88 L497.25 351.97 L498.21 352.07 L499.17 352.16 L500.12 352.26 L501.08 352.35 L502.04 352.45 L503 352.54 L503.95 352.63 L504.91 352.72 L505.87 352.81 L506.82 352.9 L507.78 352.99 L508.74 353.08 L509.7 353.17 L510.65 353.26 L511.61 353.35 L512.57 353.43 L513.52 353.52 L514.48 353.6 L515.44 353.69 L516.4 353.77 L517.35 353.86 L518.31 353.94 L519.27 354.02 L520.22 354.1 L521.18 354.19 L522.14 354.27 L523.1 354.35 L524.05 354.43 L525.01 354.51 L525.97 354.59 L526.93 354.66 L527.88 354.74 L528.84 354.82 L529.8 354.9 L530.75 354.97 L531.71 355.05 L532.67 355.12 L533.63 355.2 L534.58 355.27 L535.54 355.35 L536.5 355.42 L537.45 355.49 L538.41 355.56 L539.37 355.64 L540.33 355.71 L541.28 355.78 L542.24 355.85 L543.2 355.92 L544.15 355.99 L545.11 356.06 L546.07 356.13 L547.03 356.19 L547.98 356.26 L548.94 356.33 L549.9 356.4 L550.85 356.46 L551.81 356.53 L552.77 356.59 L553.73 356.66 L554.68 356.72 L555.64 356.79 L556.6 356.85 L557.55 356.91 L558.51 356.98 L559.47 357.04 L560.43 357.1 L561.38 357.16 L562.34 357.22 L563.3 357.29 L564.25 357.35 L565.21 357.41 L566.17 357.47 L567.13 357.52 L568.08 357.58 L569.04 357.64 L570 357.7 L570.95 357.76 L571.91 357.82 L572.87 357.87 L573.83 357.93 L574.78 357.99 L575.74 358.04 L576.7 358.1 L577.65 358.15 L578.61 358.21 L579.57 358.26 L580.53 358.32 L581.48 358.37 L582.44 358.42 L583.4 358.48 L584.36 358.53 L585.31 358.58 L586.27 358.63 L587.23 358.69 L588.18 358.74 L589.14 358.79 L590.1 358.84 L591.06 358.89 L592.01 358.94 L592.97 358.99 L593.93 359.04 L594.88 359.09 L595.84 359.14 L596.8 359.18 L597.76 359.23 L598.71 359.28 L599.67 359.33 L600.63 359.38 L601.58 359.42 L602.54 359.47 L603.5 359.52 L604.46 359.56 L605.41 359.61 L606.37 359.65 L607.33 359.7 L608.28 359.74 L609.24 359.79 L610.2 359.83 L611.16 359.88 L612.11 359.92 L613.07 359.96 L614.03 360.01 L614.98 360.05 L615.94 360.09 L616.9 360.14 L617.86 360.18 L618.81 360.22 L619.77 360.26 L620.73 360.3 L621.68 360.34 L622.64 360.38 L623.6 360.43 L624.56 360.47 L625.51 360.51 L626.47 360.55 L627.43 360.58 L628.38 360.62 L629.34 360.66 L630.3 360.7 L631.26 360.74 L632.21 360.78 L633.17 360.82 L634.13 360.86 L635.08 360.89 L636.04 360.93 L637 360.97 L637.96 361 L638.91 361.04 L639.87 361.08 L640.83 361.11 L641.79 361.15 L642.74 361.19 L643.7 361.22 L644.66 361.26 L645.61 361.29 L646.57 361.33 L647.53 361.36 L648.49 361.4 L649.44 361.43 L650.4 361.46 L651.36 361.5 L652.31 361.53 L653.27 361.56 L654.23 361.6 L655.19 361.63 L656.14 361.66 L657.1 361.7 L658.06 361.73 L659.01 361.76 L659.97 361.79 L660.93 361.82 L661.89 361.86 L662.84 361.89 L663.8 361.92"/><path d="M89.5 -7.2 L90.46 -7.2 L91.41 -7.2 L92.37 -7.2 L93.33 -7.2 L94.29 -7.2 L95.24 -7.2 L96.2 -7.2 L97.16 -7.2 L98.11 -7.2 L99.07 -7.2 L100.03 -7.2 L100.99 -7.2 L101.94 -7.2 L102.9 -7.2 L103.86 -7.2 L104.81 -7.2 L105.77 -7.2 L106.73 -7.2 L107.69 -7.2 L108.64 -7.2 L109.6 -7.2 L110.56 -7.2 L111.51 -7.2 L112.47 -7.2 L113.43 -7.2 L114.39 -7.2 L115.34 -7.2 L116.3 -7.2 L117.26 -7.2 L118.21 -7.2 L119.17 -7.2 L120.13 -7.2 L121.09 -7.2 L122.04 -7.2 L123 -7.2 L123.96 -7.2 L124.92 -7.2 L125.87 -7.2 L126.83 -7.2 L127.79 -7.2 L128.74 -7.2 L129.7 -7.2 L130.66 -7.2 L131.62 -7.2 L132.57 -7.2 L133.53 -7.2 L134.49 -7.2 L135.44 -7.2 L136.4 -7.2 L137.36 -7.2 L138.32 -7.2 L139.27 -7.2 L140.23 -7.2 L141.19 -7.2 L142.14 -7.2 L143.1 -7.2 L144.06 -7.2 L145.02 -7.2 L145.97 -7.2 L146.93 -7.2 L147.89 -7.2 L148.84 -7.2 L149.8 -7.2 L150.76 -7.2 L151.72 -7.2 L152.67 -7.2 L153.63 -7.2 L154.59 -7.2 L155.54 -7.2 L156.5 -7.2 L157.46 -7.2 L158.42 -7.2 L159.37 -7.2 L160.33 -7.2 L161.29 -7.2 L162.24 -7.2 L163.2 -7.2 L164.16 -7.2 L165.12 -7.2 L166.07 -7.2 L167.03 -7.2 L167.99 -7.2 L168.94 -7.2 L169.9 -7.2 L170.86 -7.2 L171.82 -7.2 L172.77 -7.2 L173.73 -7.2 L174.69 -7.2 L175.64 -7.2 L176.6 -7.2 L177.56 -7.2 L178.52 -7.2 L179.47 -7.2 L180.43 -7.2 L181.39 -7.2 L182.35 -7.2 L183.3 -7.2 L184.26 -7.2 L185.22 -7.2 L186.17 -7.2 L187.13 -7.2 L188.09 -7.2 L189.05 -7.2 L190 -7.2 L190.96 -7.2 L191.92 -7.2 L192.87 -7.2 L193.83 -7.2 L194.79 -7.2 L195.75 -7.2 L196.7 -7.2 L197.66 -7.2 L198.62 -7.2 L199.57 -7.2 L200.53 -7.2 L201.49 -7.2 L202.45 -7.2 L203.4 -7.2 L204.36 -7.2 L205.32 -7.2 L206.27 -7.2 L207.23 -7.2 L208.19 -7.2 L209.15 -7.2 L210.1 -7.2 L211.06 -7.2 L212.02 -7.2 L212.97 -7.2 L213.93 -7.2 L214.89 -7.2 L215.85 -7.2 L216.8 -7.2 L217.76 -7.2 L218.72 -4.17 L219.67 -0.32 L220.63 3.49 L221.59 7.26 L222.55 10.97 L223.5 14.64 L224.46 18.27 L225.42 21.85 L226.37 25.39 L227.33 28.89 L228.29 32.34 L229.25 35.75 L230.2 39.13 L231.16 42.46 L232.12 45.75 L233.07 49 L234.03 52.21 L234.99 55.38 L235.95 58.52 L236.9 61.62 L237.86 64.68 L238.82 67.7 L239.78 70.69 L240.73 73.65 L241.69 76.57 L242.65 79.45 L243.6 82.3 L244.56 85.12 L245.52 87.9 L246.48 90.66 L247.43 93.38 L248.39 96.06 L249.35 98.72 L250.3 101.35 L251.26 103.94 L252.22 106.51 L253.18 109.04 L254.13 111.55 L255.09 114.02 L256.05 116.47 L257 118.89 L257.96 121.29 L258.92 123.65 L259.88 125.99 L260.83 128.3 L261.79 130.59 L262.75 132.85 L263.7 135.08 L264.66 137.29 L265.62 139.47 L266.58 141.63 L267.53 143.77 L268.49 145.88 L269.45 147.96 L270.4 150.03 L271.36 152.07 L272.32 154.08 L273.28 156.08 L274.23 158.05 L275.19 160 L276.15 161.93 L277.1 163.84 L278.06 165.73 L279.02 167.59 L279.98 169.44 L280.93 171.26 L281.89 173.07 L282.85 174.85 L283.8 176.62 L284.76 178.37 L285.72 180.09 L286.68 181.8 L287.63 183.49 L288.59 185.17 L289.55 186.82 L290.5 188.46 L291.46 190.07 L292.42 191.67 L293.38 193.26 L294.33 194.82 L295.29 196.37 L296.25 197.91 L297.21 199.42 L298.16 200.93 L299.12 202.41 L300.08 203.88 L301.03 205.33 L301.99 206.77 L302.95 208.19 L303.91 209.6 L304.86 210.99 L305.82 212.37 L306.78 213.74 L307.73 215.09 L308.69 216.42 L309.65 217.74 L310.61 219.05 L311.56 220.35 L312.52 221.63 L313.48 222.89 L314.43 224.15 L315.39 225.39 L316.35 226.62 L317.31 227.83 L318.26 229.04 L319.22 230.23 L320.18 231.41 L321.13 232.58 L322.09 233.73 L323.05 234.87 L324.01 236.01 L324.96 237.13 L325.92 238.23 L326.88 239.33 L327.83 240.42 L328.79 241.49 L329.75 242.56 L330.71 243.61 L331.66 244.66 L332.62 245.69 L333.58 246.71 L334.53 247.72 L335.49 248.73 L336.45 249.72 L337.41 250.7 L338.36 251.68 L339.32 252.64 L340.28 253.59 L341.23 254.54 L342.19 255.47 L343.15 256.4 L344.11 257.31 L345.06 258.22 L346.02 259.12 L346.98 260.01 L347.93 260.89 L348.89 261.77 L349.85 262.63 L350.81 263.49 L351.76 264.33 L352.72 265.17 L353.68 266.01 L354.64 266.83 L355.59 267.64 L356.55 268.45 L357.51 269.25 L358.46 270.04 L359.42 270.83 L360.38 271.61 L361.34 272.38 L362.29 273.14 L363.25 273.89 L364.21 274.64 L365.16 275.38 L366.12 276.12 L367.08 276.85 L368.04 277.57 L368.99 278.28 L369.95 278.99 L370.91 279.69 L371.86 280.38 L372.82 281.07 L373.78 281.75 L374.74 282.42 L375.69 283.09 L376.65 283.75 L377.61 284.41 L378.56 285.06 L379.52 285.71 L380.48 286.34 L381.44 286.98 L382.39 287.6 L383.35 288.22 L384.31 288.84 L385.26 289.45 L386.22 290.05 L387.18 290.65 L388.14 291.24 L389.09 291.83 L390.05 292.41 L391.01 292.99 L391.96 293.56 L392.92 294.13 L393.88 294.69 L394.84 295.24 L395.79 295.8 L396.75 296.34 L397.71 296.88 L398.66 297.42 L399.62 297.95 L400.58 298.48 L401.54 299 L402.49 299.52 L403.45 300.03 L404.41 300.54 L405.36 301.05 L406.32 301.55 L407.28 302.04 L408.24 302.53 L409.19 303.02 L410.15 303.5 L411.11 303.98 L412.07 304.46 L413.02 304.93 L413.98 305.39 L414.94 305.85 L415.89 306.31 L416.85 306.77 L417.81 307.22 L418.77 307.66 L419.72 308.1 L420.68 308.54 L421.64 308.98 L422.59 309.41 L423.55 309.84 L424.51 310.26 L425.47 310.68 L426.42 311.1 L427.38 311.51 L428.34 311.92 L429.29 312.32 L430.25 312.73 L431.21 313.12 L432.17 313.52 L433.12 313.91 L434.08 314.3 L435.04 314.69 L435.99 315.07 L436.95 315.45 L437.91 315.82 L438.87 316.2 L439.82 316.57 L440.78 316.93 L441.74 317.3 L442.69 317.66 L443.65 318.02 L444.61 318.37 L445.57 318.72 L446.52 319.07 L447.48 319.42 L448.44 319.76 L449.39 320.1 L450.35 320.44 L451.31 320.77 L452.27 321.1 L453.22 321.43 L454.18 321.76 L455.14 322.08 L456.09 322.4 L457.05 322.72 L458.01 323.04 L458.97 323.35 L459.92 323.66 L460.88 323.97 L461.84 324.28 L462.79 324.58 L463.75 324.88 L464.71 325.18 L465.67 325.48 L466.62 325.77 L467.58 326.06 L468.54 326.35 L469.5 326.64 L470.45 326.92 L471.41 327.2 L472.37 327.48 L473.32 327.76 L474.28 328.04 L475.24 328.31 L476.2 328.58 L477.15 328.85 L478.11 329.12 L479.07 329.38 L480.02 329.64 L480.98 329.9 L481.94 330.16 L482.9 330.42 L483.85 330.67 L484.81 330.93 L485.77 331.18 L486.72 331.43 L487.68 331.67 L488.64 331.92 L489.6 332.16 L490.55 332.4 L491.51 332.64 L492.47 332.88 L493.42 333.11 L494.38 333.34 L495.34 333.58 L496.3 333.81 L497.25 334.03 L498.21 334.26 L499.17 334.49 L500.12 334.71 L501.08 334.93 L502.04 335.15 L503 335.37 L503.95 335.58 L504.91 335.8 L505.87 336.01 L506.82 336.22 L507.78 336.43 L508.74 336.64 L509.7 336.85 L510.65 337.05 L511.61 337.25 L512.57 337.46 L513.52 337.66 L514.48 337.85 L515.44 338.05 L516.4 338.25 L517.35 338.44 L518.31 338.64 L519.27 338.83 L520.22 339.02 L521.18 339.2 L522.14 339.39 L523.1 339.58 L524.05 339.76 L525.01 339.95 L525.97 340.13 L526.93 340.31 L527.88 340.49 L528.84 340.66 L529.8 340.84 L530.75 341.01 L531.71 341.19 L532.67 341.36 L533.63 341.53 L534.58 341.7 L535.54 341.87 L536.5 342.04 L537.45 342.2 L538.41 342.37 L539.37 342.53 L540.33 342.7 L541.28 342.86 L542.24 343.02 L543.2 343.18 L544.15 343.33 L545.11 343.49 L546.07 343.65 L547.03 343.8 L547.98 343.95 L548.94 344.11 L549.9 344.26 L550.85 344.41 L551.81 344.56 L552.77 344.7 L553.73 344.85 L554.68 345 L555.64 345.14 L556.6 345.28 L557.55 345.43 L558.51 345.57 L559.47 345.71 L560.43 345.85 L561.38 345.99 L562.34 346.12 L563.3 346.26 L564.25 346.4 L565.21 346.53 L566.17 346.67 L567.13 346.8 L568.08 346.93 L569.04 347.06 L570 347.19 L570.95 347.32 L571.91 347.45 L572.87 347.57 L573.83 347.7 L574.78 347.83 L575.74 347.95 L576.7 348.07 L577.65 348.2 L578.61 348.32 L579.57 348.44 L580.53 348.56 L581.48 348.68 L582.44 348.8 L583.4 348.92 L584.36 349.03 L585.31 349.15 L586.27 349.26 L587.23 349.38 L588.18 349.49 L589.14 349.6 L590.1 349.72 L591.06 349.83 L592.01 349.94 L592.97 350.05 L593.93 350.16 L594.88 350.27 L595.84 350.37 L596.8 350.48 L597.76 350.59 L598.71 350.69 L599.67 350.8 L600.63 350.9 L601.58 351 L602.54 351.11 L603.5 351.21 L604.46 351.31 L605.41 351.41 L606.37 351.51 L607.33 351.61 L608.28 351.7 L609.24 351.8 L610.2 351.9 L611.16 352 L612.11 352.09 L613.07 352.19 L614.03 352.28 L614.98 352.37 L615.94 352.47 L616.9 352.56 L617.86 352.65 L618.81 352.74 L619.77 352.83 L620.73 352.92 L621.68 353.01 L622.64 353.1 L623.6 353.19 L624.56 353.28 L625.51 353.36 L626.47 353.45 L627.43 353.54 L628.38 353.62 L629.34 353.7 L630.3 353.79 L631.26 353.87 L632.21 353.96 L633.17 354.04 L634.13 354.12 L635.08 354.2 L636.04 354.28 L637 354.36 L637.96 354.44 L638.91 354.52 L639.87 354.6 L640.83 354.68 L641.79 354.75 L642.74 354.83 L643.7 354.91 L644.66 354.98 L645.61 355.06 L646.57 355.13 L647.53 355.21 L648.49 355.28 L649.44 355.36 L650.4 355.43 L651.36 355.5 L652.31 355.57 L653.27 355.65 L654.23 355.72 L655.19 355.79 L656.14 355.86 L657.1 355.93 L658.06 356 L659.01 356.07 L659.97 356.13 L660.93 356.2 L661.89 356.27 L662.84 356.34 L663.8 356.4"/><path d="M89.5 -7.2 L90.46 -7.2 L91.41 -7.2 L92.37 -7.2 L93.33 -7.2 L94.29 -7.2 L95.24 -7.2 L96.2 -7.2 L97.16 -7.2 L98.11 -7.2 L99.07 -7.2 L100.03 -7.2 L100.99 -7.2 L101.94 -7.2 L102.9 -7.2 L103.86 -7.2 L104.81 -7.2 L105.77 -7.2 L106.73 -7.2 L107.69 -7.2 L108.64 -7.2 L109.6 -7.2 L110.56 -7.2 L111.51 -7.2 L112.47 -7.2 L113.43 -7.2 L114.39 -7.2 L115.34 -7.2 L116.3 -7.2 L117.26 -7.2 L118.21 -7.2 L119.17 -7.2 L120.13 -7.2 L121.09 -7.2 L122.04 -7.2 L123 -7.2 L123.96 -7.2 L124.92 -7.2 L125.87 -7.2 L126.83 -7.2 L127.79 -7.2 L128.74 -7.2 L129.7 -7.2 L130.66 -7.2 L131.62 -7.2 L132.57 -7.2 L133.53 -7.2 L134.49 -7.2 L135.44 -7.2 L136.4 -7.2 L137.36 -7.2 L138.32 -7.2 L139.27 -7.2 L140.23 -7.2 L141.19 -7.2 L142.14 -7.2 L143.1 -7.2 L144.06 -7.2 L145.02 -7.2 L145.97 -7.2 L146.93 -7.2 L147.89 -7.2 L148.84 -7.2 L149.8 -7.2 L150.76 -7.2 L151.72 -7.2 L152.67 -7.2 L153.63 -7.2 L154.59 -7.2 L155.54 -7.2 L156.5 -7.2 L157.46 -7.2 L158.42 -7.2 L159.37 -7.2 L160.33 -7.2 L161.29 -7.2 L162.24 -7.2 L163.2 -7.2 L164.16 -7.2 L165.12 -7.2 L166.07 -7.2 L167.03 -7.2 L167.99 -7.2 L168.94 -7.2 L169.9 -7.2 L170.86 -7.2 L171.82 -7.2 L172.77 -7.2 L173.73 -7.2 L174.69 -7.2 L175.64 -7.2 L176.6 -7.2 L177.56 -7.2 L178.52 -7.2 L179.47 -7.2 L180.43 -7.2 L181.39 -7.2 L182.35 -7.2 L183.3 -7.2 L184.26 -7.2 L185.22 -7.2 L186.17 -7.2 L187.13 -7.2 L188.09 -7.2 L189.05 -7.2 L190 -7.2 L190.96 -7.2 L191.92 -7.2 L192.87 -7.2 L193.83 -7.2 L194.79 -7.2 L195.75 -7.2 L196.7 -7.2 L197.66 -7.2 L198.62 -7.2 L199.57 -7.2 L200.53 -7.2 L201.49 -7.2 L202.45 -7.2 L203.4 -7.2 L204.36 -7.2 L205.32 -7.2 L206.27 -7.2 L207.23 -7.2 L208.19 -7.2 L209.15 -7.2 L210.1 -7.2 L211.06 -7.2 L212.02 -7.2 L212.97 -7.2 L213.93 -7.2 L214.89 -7.2 L215.85 -7.2 L216.8 -7.2 L217.76 -7.2 L218.72 -7.2 L219.67 -7.2 L220.63 -7.2 L221.59 -7.2 L222.55 -7.2 L223.5 -7.2 L224.46 -7.2 L225.42 -7.2 L226.37 -7.2 L227.33 -7.2 L228.29 -7.2 L229.25 -7.2 L230.2 -7.2 L231.16 -7.2 L232.12 -7.2 L233.07 -7.2 L234.03 -7.2 L234.99 -7.2 L235.95 -7.2 L236.9 -7.2 L237.86 -7.2 L238.82 -7.2 L239.78 -7.2 L240.73 -7.2 L241.69 -7.2 L242.65 -7.2 L243.6 -7.2 L244.56 -7.2 L245.52 -7.2 L246.48 -7.2 L247.43 -7.2 L248.39 -7.2 L249.35 -7.2 L250.3 -7.2 L251.26 -7.2 L252.22 -7.2 L253.18 -7.2 L254.13 -7.2 L255.09 -7.2 L256.05 -7.2 L257 -7.2 L257.96 -7.2 L258.92 -7.2 L259.88 -7.2 L260.83 -7.2 L261.79 -7.2 L262.75 -7.2 L263.7 -7.2 L264.66 -7.2 L265.62 -7.2 L266.58 -7.2 L267.53 -7.2 L268.49 -7.2 L269.45 -7.2 L270.4 -7.2 L271.36 -7.2 L272.32 -7.2 L273.28 -7.2 L274.23 -7.2 L275.19 -7.2 L276.15 -7.2 L277.1 -7.2 L278.06 -7.2 L279.02 -7.2 L279.98 -7.2 L280.93 -7.2 L281.89 -7.2 L282.85 -7.2 L283.8 -7.2 L284.76 -7.2 L285.72 -7.2 L286.68 -7.2 L287.63 -7.2 L288.59 -7.2 L289.55 -7.2 L290.5 -7.2 L291.46 -7.2 L292.42 -7.2 L293.38 -7.2 L294.33 -7.2 L295.29 -7.2 L296.25 -7.2 L297.21 -7.2 L298.16 -7.2 L299.12 -7.2 L300.08 -7.2 L301.03 -7.2 L301.99 -7.2 L302.95 -7.2 L303.91 -7.2 L304.86 -7.2 L305.82 -7.2 L306.78 -7.2 L307.73 -7.2 L308.69 -7.2 L309.65 -7.2 L310.61 -7.2 L311.56 -7.2 L312.52 -7.2 L313.48 -7.2 L314.43 -7.2 L315.39 -7.2 L316.35 -7.2 L317.31 -7.2 L318.26 -7.2 L319.22 -7.2 L320.18 -7.2 L321.13 -7.2 L322.09 -7.2 L323.05 -7.2 L324.01 -7.2 L324.96 -7.2 L325.92 -7.2 L326.88 -7.2 L327.83 -7.2 L328.79 -7.2 L329.75 -7.2 L330.71 -4.86 L331.66 -1.03 L332.62 2.75 L333.58 6.49 L334.53 10.18 L335.49 13.83 L336.45 17.44 L337.41 21 L338.36 24.51 L339.32 27.99 L340.28 31.43 L341.23 34.82 L342.19 38.17 L343.15 41.48 L344.11 44.76 L345.06 47.99 L346.02 51.19 L346.98 54.35 L347.93 57.47 L348.89 60.55 L349.85 63.6 L350.81 66.62 L351.76 69.59 L352.72 72.54 L353.68 75.44 L354.64 78.32 L355.59 81.16 L356.55 83.97 L357.51 86.74 L358.46 89.48 L359.42 92.2 L360.38 94.88 L361.34 97.52 L362.29 100.14 L363.25 102.73 L364.21 105.29 L365.16 107.82 L366.12 110.32 L367.08 112.79 L368.04 115.24 L368.99 117.65 L369.95 120.04 L370.91 122.4 L371.86 124.74 L372.82 127.04 L373.78 129.33 L374.74 131.58 L375.69 133.82 L376.65 136.02 L377.61 138.2 L378.56 140.36 L379.52 142.49 L380.48 144.6 L381.44 146.69 L382.39 148.75 L383.35 150.79 L384.31 152.81 L385.26 154.8 L386.22 156.78 L387.18 158.73 L388.14 160.66 L389.09 162.57 L390.05 164.45 L391.01 166.32 L391.96 168.17 L392.92 169.99 L393.88 171.8 L394.84 173.59 L395.79 175.35 L396.75 177.1 L397.71 178.83 L398.66 180.54 L399.62 182.23 L400.58 183.91 L401.54 185.57 L402.49 187.2 L403.45 188.82 L404.41 190.43 L405.36 192.01 L406.32 193.58 L407.28 195.14 L408.24 196.67 L409.19 198.19 L410.15 199.7 L411.11 201.19 L412.07 202.66 L413.02 204.12 L413.98 205.56 L414.94 206.98 L415.89 208.4 L416.85 209.79 L417.81 211.18 L418.77 212.54 L419.72 213.9 L420.68 215.24 L421.64 216.56 L422.59 217.87 L423.55 219.17 L424.51 220.46 L425.47 221.73 L426.42 222.99 L427.38 224.24 L428.34 225.47 L429.29 226.69 L430.25 227.9 L431.21 229.09 L432.17 230.28 L433.12 231.45 L434.08 232.61 L435.04 233.76 L435.99 234.89 L436.95 236.02 L437.91 237.13 L438.87 238.23 L439.82 239.33 L440.78 240.41 L441.74 241.48 L442.69 242.53 L443.65 243.58 L444.61 244.62 L445.57 245.65 L446.52 246.67 L447.48 247.67 L448.44 248.67 L449.39 249.66 L450.35 250.64 L451.31 251.61 L452.27 252.56 L453.22 253.51 L454.18 254.45 L455.14 255.38 L456.09 256.31 L457.05 257.22 L458.01 258.12 L458.97 259.02 L459.92 259.91 L460.88 260.78 L461.84 261.65 L462.79 262.51 L463.75 263.37 L464.71 264.21 L465.67 265.05 L466.62 265.88 L467.58 266.7 L468.54 267.51 L469.5 268.31 L470.45 269.11 L471.41 269.9 L472.37 270.68 L473.32 271.46 L474.28 272.23 L475.24 272.99 L476.2 273.74 L477.15 274.49 L478.11 275.23 L479.07 275.96 L480.02 276.68 L480.98 277.4 L481.94 278.11 L482.9 278.82 L483.85 279.52 L484.81 280.21 L485.77 280.9 L486.72 281.58 L487.68 282.25 L488.64 282.92 L489.6 283.58 L490.55 284.23 L491.51 284.88 L492.47 285.52 L493.42 286.16 L494.38 286.79 L495.34 287.42 L496.3 288.04 L497.25 288.65 L498.21 289.26 L499.17 289.86 L500.12 290.46 L501.08 291.05 L502.04 291.64 L503 292.22 L503.95 292.79 L504.91 293.37 L505.87 293.93 L506.82 294.49 L507.78 295.05 L508.74 295.6 L509.7 296.14 L510.65 296.69 L511.61 297.22 L512.57 297.75 L513.52 298.28 L514.48 298.8 L515.44 299.32 L516.4 299.83 L517.35 300.34 L518.31 300.85 L519.27 301.35 L520.22 301.84 L521.18 302.33 L522.14 302.82 L523.1 303.3 L524.05 303.78 L525.01 304.25 L525.97 304.72 L526.93 305.19 L527.88 305.65 L528.84 306.11 L529.8 306.56 L530.75 307.01 L531.71 307.46 L532.67 307.9 L533.63 308.34 L534.58 308.77 L535.54 309.21 L536.5 309.63 L537.45 310.06 L538.41 310.48 L539.37 310.89 L540.33 311.31 L541.28 311.72 L542.24 312.12 L543.2 312.52 L544.15 312.92 L545.11 313.32 L546.07 313.71 L547.03 314.1 L547.98 314.49 L548.94 314.87 L549.9 315.25 L550.85 315.63 L551.81 316 L552.77 316.37 L553.73 316.74 L554.68 317.1 L555.64 317.46 L556.6 317.82 L557.55 318.17 L558.51 318.53 L559.47 318.88 L560.43 319.22 L561.38 319.56 L562.34 319.91 L563.3 320.24 L564.25 320.58 L565.21 320.91 L566.17 321.24 L567.13 321.57 L568.08 321.89 L569.04 322.21 L570 322.53 L570.95 322.85 L571.91 323.16 L572.87 323.47 L573.83 323.78 L574.78 324.09 L575.74 324.39 L576.7 324.69 L577.65 324.99 L578.61 325.29 L579.57 325.58 L580.53 325.88 L581.48 326.17 L582.44 326.45 L583.4 326.74 L584.36 327.02 L585.31 327.3 L586.27 327.58 L587.23 327.86 L588.18 328.13 L589.14 328.4 L590.1 328.67 L591.06 328.94 L592.01 329.2 L592.97 329.47 L593.93 329.73 L594.88 329.99 L595.84 330.24 L596.8 330.5 L597.76 330.75 L598.71 331 L599.67 331.25 L600.63 331.5 L601.58 331.74 L602.54 331.99 L603.5 332.23 L604.46 332.47 L605.41 332.71 L606.37 332.94 L607.33 333.18 L608.28 333.41 L609.24 333.64 L610.2 333.87 L611.16 334.1 L612.11 334.32 L613.07 334.54 L614.03 334.77 L614.98 334.99 L615.94 335.2 L616.9 335.42 L617.86 335.64 L618.81 335.85 L619.77 336.06 L620.73 336.27 L621.68 336.48 L622.64 336.69 L623.6 336.89 L624.56 337.1 L625.51 337.3 L626.47 337.5 L627.43 337.7 L628.38 337.9 L629.34 338.09 L630.3 338.29 L631.26 338.48 L632.21 338.68 L633.17 338.87 L634.13 339.05 L635.08 339.24 L636.04 339.43 L637 339.61 L637.96 339.8 L638.91 339.98 L639.87 340.16 L640.83 340.34 L641.79 340.52 L642.74 340.7 L643.7 340.87 L644.66 341.05 L645.61 341.22 L646.57 341.39 L647.53 341.56 L648.49 341.73 L649.44 341.9 L650.4 342.06 L651.36 342.23 L652.31 342.39 L653.27 342.56 L654.23 342.72 L655.19 342.88 L656.14 343.04 L657.1 343.2 L658.06 343.36 L659.01 343.51 L659.97 343.67 L660.93 343.82 L661.89 343.97 L662.84 344.13 L663.8 344.28"/><path d="M89.5 -7.2 L90.46 -7.2 L91.41 -7.2 L92.37 -7.2 L93.33 -7.2 L94.29 -7.2 L95.24 -7.2 L96.2 -7.2 L97.16 -7.2 L98.11 -7.2 L99.07 -7.2 L100.03 -7.2 L100.99 -7.2 L101.94 -7.2 L102.9 -7.2 L103.86 -7.2 L104.81 -7.2 L105.77 -7.2 L106.73 -7.2 L107.69 -7.2 L108.64 -7.2 L109.6 -7.2 L110.56 -7.2 L111.51 -7.2 L112.47 -7.2 L113.43 -7.2 L114.39 -7.2 L115.34 -7.2 L116.3 -7.2 L117.26 -7.2 L118.21 -7.2 L119.17 -7.2 L120.13 -7.2 L121.09 -7.2 L122.04 -7.2 L123 -7.2 L123.96 -7.2 L124.92 -7.2 L125.87 -7.2 L126.83 -7.2 L127.79 -7.2 L128.74 -7.2 L129.7 -7.2 L130.66 -7.2 L131.62 -7.2 L132.57 -7.2 L133.53 -7.2 L134.49 -7.2 L135.44 -7.2 L136.4 -7.2 L137.36 -7.2 L138.32 -7.2 L139.27 -7.2 L140.23 -7.2 L141.19 -7.2 L142.14 -7.2 L143.1 -7.2 L144.06 -7.2 L145.02 -7.2 L145.97 -7.2 L146.93 -7.2 L147.89 -7.2 L148.84 -7.2 L149.8 -7.2 L150.76 -7.2 L151.72 -7.2 L152.67 -7.2 L153.63 -7.2 L154.59 -7.2 L155.54 -7.2 L156.5 -7.2 L157.46 -7.2 L158.42 -7.2 L159.37 -7.2 L160.33 -7.2 L161.29 -7.2 L162.24 -7.2 L163.2 -7.2 L164.16 -7.2 L165.12 -7.2 L166.07 -7.2 L167.03 -7.2 L167.99 -7.2 L168.94 -7.2 L169.9 -7.2 L170.86 -7.2 L171.82 -7.2 L172.77 -7.2 L173.73 -7.2 L174.69 -7.2 L175.64 -7.2 L176.6 -7.2 L177.56 -7.2 L178.52 -7.2 L179.47 -7.2 L180.43 -7.2 L181.39 -7.2 L182.35 -7.2 L183.3 -7.2 L184.26 -7.2 L185.22 -7.2 L186.17 -7.2 L187.13 -7.2 L188.09 -7.2 L189.05 -7.2 L190 -7.2 L190.96 -7.2 L191.92 -7.2 L192.87 -7.2 L193.83 -7.2 L194.79 -7.2 L195.75 -7.2 L196.7 -7.2 L197.66 -7.2 L198.62 -7.2 L199.57 -7.2 L200.53 -7.2 L201.49 -7.2 L202.45 -7.2 L203.4 -7.2 L204.36 -7.2 L205.32 -7.2 L206.27 -7.2 L207.23 -7.2 L208.19 -7.2 L209.15 -7.2 L210.1 -7.2 L211.06 -7.2 L212.02 -7.2 L212.97 -7.2 L213.93 -7.2 L214.89 -7.2 L215.85 -7.2 L216.8 -7.2 L217.76 -7.2 L218.72 -7.2 L219.67 -7.2 L220.63 -7.2 L221.59 -7.2 L222.55 -7.2 L223.5 -7.2 L224.46 -7.2 L225.42 -7.2 L226.37 -7.2 L227.33 -7.2 L228.29 -7.2 L229.25 -7.2 L230.2 -7.2 L231.16 -7.2 L232.12 -7.2 L233.07 -7.2 L234.03 -7.2 L234.99 -7.2 L235.95 -7.2 L236.9 -7.2 L237.86 -7.2 L238.82 -7.2 L239.78 -7.2 L240.73 -7.2 L241.69 -7.2 L242.65 -7.2 L243.6 -7.2 L244.56 -7.2 L245.52 -7.2 L246.48 -7.2 L247.43 -7.2 L248.39 -7.2 L249.35 -7.2 L250.3 -7.2 L251.26 -7.2 L252.22 -7.2 L253.18 -7.2 L254.13 -7.2 L255.09 -7.2 L256.05 -7.2 L257 -7.2 L257.96 -7.2 L258.92 -7.2 L259.88 -7.2 L260.83 -7.2 L261.79 -7.2 L262.75 -7.2 L263.7 -7.2 L264.66 -7.2 L265.62 -7.2 L266.58 -7.2 L267.53 -7.2 L268.49 -7.2 L269.45 -7.2 L270.4 -7.2 L271.36 -7.2 L272.32 -7.2 L273.28 -7.2 L274.23 -7.2 L275.19 -7.2 L276.15 -7.2 L277.1 -7.2 L278.06 -7.2 L279.02 -7.2 L279.98 -7.2 L280.93 -7.2 L281.89 -7.2 L282.85 -7.2 L283.8 -7.2 L284.76 -7.2 L285.72 -7.2 L286.68 -7.2 L287.63 -7.2 L288.59 -7.2 L289.55 -7.2 L290.5 -7.2 L291.46 -7.2 L292.42 -7.2 L293.38 -7.2 L294.33 -7.2 L295.29 -7.2 L296.25 -7.2 L297.21 -7.2 L298.16 -7.2 L299.12 -7.2 L300.08 -7.2 L301.03 -7.2 L301.99 -7.2 L302.95 -7.2 L303.91 -7.2 L304.86 -7.2 L305.82 -7.2 L306.78 -7.2 L307.73 -7.2 L308.69 -7.2 L309.65 -7.2 L310.61 -7.2 L311.56 -7.2 L312.52 -7.2 L313.48 -7.2 L314.43 -7.2 L315.39 -7.2 L316.35 -7.2 L317.31 -7.2 L318.26 -7.2 L319.22 -7.2 L320.18 -7.2 L321.13 -7.2 L322.09 -7.2 L323.05 -7.2 L324.01 -7.2 L324.96 -7.2 L325.92 -7.2 L326.88 -7.2 L327.83 -7.2 L328.79 -7.2 L329.75 -7.2 L330.71 -7.2 L331.66 -7.2 L332.62 -7.2 L333.58 -7.2 L334.53 -7.2 L335.49 -7.2 L336.45 -7.2 L337.41 -7.2 L338.36 -7.2 L339.32 -7.2 L340.28 -7.2 L341.23 -7.2 L342.19 -7.2 L343.15 -7.2 L344.11 -7.2 L345.06 -7.2 L346.02 -7.2 L346.98 -7.2 L347.93 -7.2 L348.89 -7.2 L349.85 -7.2 L350.81 -7.2 L351.76 -7.2 L352.72 -7.2 L353.68 -7.2 L354.64 -7.2 L355.59 -7.2 L356.55 -7.2 L357.51 -7.2 L358.46 -7.2 L359.42 -7.2 L360.38 -7.2 L361.34 -7.2 L362.29 -7.2 L363.25 -7.2 L364.21 -7.2 L365.16 -7.2 L366.12 -7.2 L367.08 -7.2 L368.04 -7.2 L368.99 -7.2 L369.95 -7.2 L370.91 -7.2 L371.86 -7.2 L372.82 -7.2 L373.78 -7.2 L374.74 -7.2 L375.69 -7.2 L376.65 -7.2 L377.61 -7.2 L378.56 -7.2 L379.52 -7.2 L380.48 -7.2 L381.44 -7.2 L382.39 -7.2 L383.35 -7.2 L384.31 -7.2 L385.26 -7.2 L386.22 -7.2 L387.18 -7.2 L388.14 -7.2 L389.09 -7.2 L390.05 -7.2 L391.01 -7.2 L391.96 -7.2 L392.92 -7.2 L393.88 -7.2 L394.84 -7.2 L395.79 -7.2 L396.75 -7.2 L397.71 -7.2 L398.66 -7.2 L399.62 -7.2 L400.58 -7.2 L401.54 -7.2 L402.49 -7.2 L403.45 -7.2 L404.41 -7.2 L405.36 -7.2 L406.32 -7.2 L407.28 -7.2 L408.24 -7.2 L409.19 -7.2 L410.15 -7.2 L411.11 -7.2 L412.07 -7.2 L413.02 -7.2 L413.98 -7.2 L414.94 -7.2 L415.89 -7.2 L416.85 -7.2 L417.81 -7.2 L418.77 -7.2 L419.72 -7.2 L420.68 -7.2 L421.64 -7.2 L422.59 -7.2 L423.55 -7.2 L424.51 -7.2 L425.47 -7.2 L426.42 -7.2 L427.38 -7.2 L428.34 -7.2 L429.29 -7.2 L430.25 -7.2 L431.21 -7.2 L432.17 -7.2 L433.12 -7.2 L434.08 -7.2 L435.04 -7.2 L435.99 -7.2 L436.95 -7.2 L437.91 -7.2 L438.87 -7.2 L439.82 -7.2 L440.78 -7.2 L441.74 -7.2 L442.69 -7.2 L443.65 -4.39 L444.61 -0.59 L445.57 3.17 L446.52 6.88 L447.48 10.54 L448.44 14.16 L449.39 17.74 L450.35 21.28 L451.31 24.77 L452.27 28.22 L453.22 31.63 L454.18 35 L455.14 38.33 L456.09 41.62 L457.05 44.88 L458.01 48.09 L458.97 51.27 L459.92 54.41 L460.88 57.51 L461.84 60.57 L462.79 63.6 L463.75 66.6 L464.71 69.56 L465.67 72.49 L466.62 75.38 L467.58 78.24 L468.54 81.06 L469.5 83.85 L470.45 86.62 L471.41 89.34 L472.37 92.04 L473.32 94.71 L474.28 97.35 L475.24 99.95 L476.2 102.53 L477.15 105.07 L478.11 107.59 L479.07 110.08 L480.02 112.54 L480.98 114.98 L481.94 117.38 L482.9 119.76 L483.85 122.11 L484.81 124.44 L485.77 126.74 L486.72 129.01 L487.68 131.26 L488.64 133.48 L489.6 135.68 L490.55 137.86 L491.51 140.01 L492.47 142.13 L493.42 144.24 L494.38 146.31 L495.34 148.37 L496.3 150.4 L497.25 152.42 L498.21 154.4 L499.17 156.37 L500.12 158.32 L501.08 160.24 L502.04 162.15 L503 164.03 L503.95 165.89 L504.91 167.73 L505.87 169.56 L506.82 171.36 L507.78 173.14 L508.74 174.91 L509.7 176.65 L510.65 178.38 L511.61 180.08 L512.57 181.77 L513.52 183.44 L514.48 185.1 L515.44 186.73 L516.4 188.35 L517.35 189.95 L518.31 191.54 L519.27 193.1 L520.22 194.66 L521.18 196.19 L522.14 197.71 L523.1 199.21 L524.05 200.7 L525.01 202.17 L525.97 203.62 L526.93 205.06 L527.88 206.49 L528.84 207.9 L529.8 209.3 L530.75 210.68 L531.71 212.05 L532.67 213.4 L533.63 214.74 L534.58 216.06 L535.54 217.37 L536.5 218.67 L537.45 219.96 L538.41 221.23 L539.37 222.49 L540.33 223.73 L541.28 224.97 L542.24 226.19 L543.2 227.4 L544.15 228.59 L545.11 229.78 L546.07 230.95 L547.03 232.11 L547.98 233.26 L548.94 234.39 L549.9 235.52 L550.85 236.63 L551.81 237.74 L552.77 238.83 L553.73 239.91 L554.68 240.98 L555.64 242.04 L556.6 243.09 L557.55 244.13 L558.51 245.16 L559.47 246.17 L560.43 247.18 L561.38 248.18 L562.34 249.17 L563.3 250.15 L564.25 251.12 L565.21 252.08 L566.17 253.03 L567.13 253.97 L568.08 254.9 L569.04 255.82 L570 256.74 L570.95 257.64 L571.91 258.54 L572.87 259.43 L573.83 260.31 L574.78 261.18 L575.74 262.04 L576.7 262.9 L577.65 263.74 L578.61 264.58 L579.57 265.41 L580.53 266.23 L581.48 267.05 L582.44 267.85 L583.4 268.65 L584.36 269.44 L585.31 270.23 L586.27 271 L587.23 271.77 L588.18 272.53 L589.14 273.29 L590.1 274.04 L591.06 274.78 L592.01 275.51 L592.97 276.24 L593.93 276.96 L594.88 277.67 L595.84 278.38 L596.8 279.08 L597.76 279.77 L598.71 280.46 L599.67 281.14 L600.63 281.82 L601.58 282.49 L602.54 283.15 L603.5 283.81 L604.46 284.46 L605.41 285.1 L606.37 285.74 L607.33 286.37 L608.28 287 L609.24 287.62 L610.2 288.24 L611.16 288.85 L612.11 289.45 L613.07 290.05 L614.03 290.64 L614.98 291.23 L615.94 291.82 L616.9 292.39 L617.86 292.97 L618.81 293.53 L619.77 294.1 L620.73 294.66 L621.68 295.21 L622.64 295.76 L623.6 296.3 L624.56 296.84 L625.51 297.37 L626.47 297.9 L627.43 298.42 L628.38 298.94 L629.34 299.46 L630.3 299.97 L631.26 300.47 L632.21 300.97 L633.17 301.47 L634.13 301.96 L635.08 302.45 L636.04 302.94 L637 303.42 L637.96 303.89 L638.91 304.36 L639.87 304.83 L640.83 305.3 L641.79 305.76 L642.74 306.21 L643.7 306.66 L644.66 307.11 L645.61 307.55 L646.57 308 L647.53 308.43 L648.49 308.86 L649.44 309.29 L650.4 309.72 L651.36 310.14 L652.31 310.56 L653.27 310.97 L654.23 311.38 L655.19 311.79 L656.14 312.2 L657.1 312.6 L658.06 313 L659.01 313.39 L659.97 313.78 L660.93 314.17 L661.89 314.55 L662.84 314.93 L663.8 315.31"/></g><g clip-path="url(#c)" fill="none" stroke="#d00000" stroke-width="3.0" stroke-dasharray="6.3 5.54" stroke-linejoin="miter" stroke-miterlimit="10"><path d="M89.5 310.89 L99.55 315.18 L109.02 318.88 L117.98 322.09 L126.48 324.92 L134.56 327.42 L142.27 329.64 L149.64 331.64 L156.69 333.43 L163.45 314.75 L169.95 317.33 L176.21 319.67 L182.23 321.8 L188.05 323.76 L193.67 325.55 L199.1 327.21 L204.36 328.74 L209.46 330.17 L214.41 331.49 L219.21 318.41 L223.88 320.12 L228.42 321.71 L232.84 323.2 L237.14 324.6 L241.34 325.92 L245.43 327.16 L249.42 328.32 L253.32 329.43 L257.13 330.47 L260.85 320.42 L264.5 321.69 L268.06 322.9 L271.55 324.04 L274.97 325.13 L278.31 326.17 L281.59 327.15 L284.81 328.09 L287.97 328.99 L291.07 329.85 L294.11 321.7 L297.09 322.71 L300.03 323.68 L302.91 324.6 L305.74 325.49 L308.53 326.35 L311.26 327.17 L313.96 327.96 L316.61 328.71 L319.22 329.44 L321.79 322.59 L324.32 323.43 L326.81 324.23 L329.27 325.01 L331.69 325.76 L334.07 326.49 L336.42 327.19 L338.74 327.87 L341.02 328.52 L343.28 329.16 L345.5 323.24 L347.7 323.96 L349.86 324.65 L352 325.32 L354.11 325.97 L356.2 326.6 L358.26 327.21 L360.29 327.81 L362.3 328.39 L364.28 328.95 L366.24 323.75 L368.18 324.37 L370.1 324.98 L371.99 325.57 L373.86 326.14 L375.71 326.7 L377.55 327.24 L379.36 327.77 L381.15 328.29 L382.92 328.79 L384.67 324.15 L386.41 324.7 L388.13 325.24 L389.83 325.77 L391.51 326.28 L393.17 326.78 L394.82 327.27 L396.45 327.74 L398.07 328.21 L399.67 328.66 L401.26 324.48 L402.83 324.98 L404.38 325.46 L405.93 325.93 L407.45 326.4 L408.97 326.85 L410.47 327.29 L411.95 327.73 L413.43 328.15 L414.89 328.57 L416.33 324.76 L417.77 325.21 L419.19 325.64 L420.6 326.08 L422 326.5 L423.39 326.91 L424.76 327.32 L426.12 327.71 L427.48 328.1 L428.82 328.49 L430.15 324.99 L431.47 325.4 L432.78 325.8 L434.08 326.2 L435.37 326.59 L436.65 326.97 L437.92 327.34 L439.18 327.71 L440.43 328.07 L441.67 328.42 L442.9 325.19 L444.13 325.57 L445.34 325.94 L446.55 326.3 L447.74 326.66 L448.93 327.01 L450.11 327.36 L451.28 327.7 L452.44 328.04 L453.6 328.37 L454.74 325.36 L455.88 325.71 L457.01 326.06 L458.14 326.4 L459.25 326.73 L460.36 327.06 L461.46 327.38 L462.56 327.7 L463.64 328.01 L464.72 328.32 L465.8 325.52 L466.86 325.84 L467.92 326.16 L468.97 326.48 L470.02 326.79 L471.06 327.1 L472.09 327.4 L473.12 327.7 L474.13 327.99 L475.15 328.28 L476.16 325.65 L477.16 325.96 L478.15 326.26 L479.14 326.56 L480.13 326.85 L481.1 327.14 L482.07 327.42 L483.04 327.7 L484 327.98 L484.96 328.25 L485.91 325.77 L486.85 326.06 L487.79 326.34 L488.72 326.62 L489.65 326.9 L490.57 327.17 L491.49 327.44 L492.41 327.7 L493.31 327.97 L494.22 328.22 L495.11 325.88 L496.01 326.15 L496.9 326.42 L497.78 326.68 L498.66 326.95 L499.53 327.2 L500.4 327.46 L501.27 327.71 L502.13 327.96 L502.99 328.2 L503.84 325.98 L504.69 326.24 L505.53 326.49 L506.37 326.74 L507.2 326.99 L508.03 327.23 L508.86 327.47 L509.68 327.71 L510.5 327.95 L511.31 328.18 L512.13 326.07 L512.93 326.31 L513.73 326.55 L514.53 326.79 L515.33 327.03 L516.12 327.26 L516.91 327.49 L517.69 327.72 L518.47 327.94 L519.24 328.16 L520.02 326.15 L520.79 326.38 L521.55 326.61 L522.31 326.84 L523.07 327.06 L523.83 327.29 L524.58 327.5 L525.33 327.72 L526.07 327.94 L526.81 328.15 L527.55 326.23 L528.29 326.45 L529.02 326.67 L529.75 326.88 L530.47 327.1 L531.19 327.31 L531.91 327.52 L532.63 327.73 L533.34 327.93 L534.05 328.13 L534.76 326.3 L535.46 326.51 L536.16 326.72 L536.86 326.93 L537.55 327.13 L538.25 327.33 L538.93 327.53 L539.62 327.73 L540.3 327.93 L540.98 328.12 L541.66 326.36 L542.34 326.57 L543.01 326.77 L543.68 326.96 L544.35 327.16 L545.01 327.35 L545.67 327.55 L546.33 327.74 L546.99 327.93 L547.64 328.11 L548.29 326.42 L548.94 326.62 L549.59 326.81 L550.23 327 L550.87 327.19 L551.51 327.37 L552.15 327.56 L552.78 327.74 L553.41 327.92 L554.04 328.1 L554.67 326.48 L555.29 326.67 L555.91 326.85 L556.53 327.03 L557.15 327.21 L557.76 327.39 L558.38 327.57 L558.99 327.75 L559.59 327.92 L560.2 328.1 L560.8 326.53 L561.41 326.71 L562 326.89 L562.6 327.06 L563.2 327.24 L563.79 327.41 L564.38 327.58 L564.97 327.75 L565.56 327.92 L566.14 328.09 L566.72 326.58 L567.3 326.75 L567.88 326.92 L568.46 327.09 L569.03 327.26 L569.6 327.43 L570.17 327.59 L570.74 327.76 L571.31 327.92 L571.87 328.08 L572.44 326.63 L573 326.79 L573.56 326.96 L574.11 327.12 L574.67 327.28 L575.22 327.45 L575.77 327.61 L576.32 327.76 L576.87 327.92 L577.42 328.08 L577.96 326.67 L578.5 326.83 L579.04 326.99 L579.58 327.15 L580.12 327.31 L580.66 327.46 L581.19 327.62 L581.72 327.77 L582.25 327.92 L582.78 328.07 L583.31 326.71 L583.83 326.87 L584.36 327.02 L584.88 327.17 L585.4 327.33 L585.92 327.48 L586.43 327.63 L586.95 327.78 L587.46 327.92 L587.98 328.07 L588.49 326.75 L588.99 326.9 L589.5 327.05 L590.01 327.2 L590.51 327.35 L591.02 327.49 L591.52 327.64 L592.02 327.78 L592.52 327.92 L593.01 328.07 L593.51 326.79 L594 326.93 L594.49 327.08 L594.99 327.22 L595.47 327.36 L595.96 327.51 L596.45 327.65 L596.93 327.79 L597.42 327.93 L597.9 328.06 L598.38 326.82 L598.86 326.96 L599.34 327.1 L599.82 327.24 L600.29 327.38 L600.77 327.52 L601.24 327.66 L601.71 327.79 L602.18 327.93 L602.65 328.06 L603.12 326.85 L603.58 326.99 L604.05 327.13 L604.51 327.26 L604.97 327.4 L605.43 327.53 L605.89 327.67 L606.35 327.8 L606.81 327.93 L607.27 328.06 L607.72 326.89 L608.17 327.02 L608.63 327.15 L609.08 327.28 L609.53 327.41 L609.97 327.55 L610.42 327.67 L610.87 327.8 L611.31 327.93 L611.76 328.06 L612.2 326.92 L612.64 327.05 L613.08 327.17 L613.52 327.3 L613.96 327.43 L614.39 327.56 L614.83 327.68 L615.26 327.81 L615.7 327.93 L616.13 328.06 L616.56 326.94 L616.99 327.07 L617.42 327.2 L617.85 327.32 L618.27 327.45 L618.7 327.57 L619.12 327.69 L619.55 327.81 L619.97 327.93 L620.39 328.05 L620.81 326.97 L621.23 327.1 L621.65 327.22 L622.06 327.34 L622.48 327.46 L622.89 327.58 L623.31 327.7 L623.72 327.82 L624.13 327.94 L624.54 328.05 L624.95 327 L625.36 327.12 L625.77 327.24 L626.17 327.36 L626.58 327.47 L626.99 327.59 L627.39 327.71 L627.79 327.82 L628.19 327.94 L628.59 328.05 L628.99 327.02 L629.39 327.14 L629.79 327.26 L630.19 327.37 L630.58 327.49 L630.98 327.6 L631.37 327.72 L631.77 327.83 L632.16 327.94 L632.55 328.05 L632.94 327.05 L633.33 327.16 L633.72 327.28 L634.1 327.39 L634.49 327.5 L634.88 327.61 L635.26 327.72 L635.65 327.83 L636.03 327.94 L636.41 328.05 L636.79 327.07 L637.17 327.18 L637.55 327.29 L637.93 327.4 L638.31 327.51 L638.69 327.62 L639.06 327.73 L639.44 327.84 L639.81 327.95 L640.19 328.05 L640.56 327.09 L640.93 327.2 L641.3 327.31 L641.67 327.42 L642.04 327.52 L642.41 327.63 L642.78 327.74 L643.15 327.84 L643.51 327.95 L643.88 328.05 L644.24 327.11 L644.61 327.22 L644.97 327.33 L645.33 327.43 L645.69 327.54 L646.05 327.64 L646.41 327.74 L646.77 327.85 L647.13 327.95 L647.49 328.05 L647.84 327.13 L648.2 327.24 L648.56 327.34 L648.91 327.45 L649.26 327.55 L649.62 327.65 L649.97 327.75 L650.32 327.85 L650.67 327.95 L651.02 328.05 L651.37 327.15 L651.72 327.26 L652.07 327.36 L652.41 327.46 L652.76 327.56 L653.11 327.66 L653.45 327.76 L653.79 327.86 L654.14 327.96 L654.48 328.05 L654.82 327.17 L655.16 327.27 L655.5 327.37 L655.84 327.47 L656.18 327.57 L656.52 327.67 L656.86 327.76 L657.2 327.86 L657.53 327.96 L657.87 328.05 L658.2 327.19 L658.54 327.29 L658.87 327.39 L659.21 327.48 L659.54 327.58 L659.87 327.68 L660.2 327.77 L660.53 327.87 L660.86 327.96 L661.19 328.05 L661.52 327.21 L661.85 327.31 L662.17 327.4 L662.5 327.5 L662.83 327.59 L663.15 327.68 L663.48 327.78 L663.8 327.87"/><path d="M89.5 271.02 L99.55 278.99 L109.02 245.76 L117.98 255.13 L126.48 263.22 L134.56 270.28 L142.27 276.49 L149.64 251 L156.69 258.03 L163.45 264.3 L169.95 269.93 L176.21 275 L182.23 254.35 L188.05 259.97 L193.67 265.08 L199.1 269.75 L204.36 274.04 L209.46 256.69 L214.41 261.36 L219.21 265.68 L223.88 269.67 L228.42 273.38 L232.84 258.43 L237.14 262.42 L241.34 266.15 L245.43 269.64 L249.42 272.9 L253.32 259.78 L257.13 263.26 L260.85 266.54 L264.5 269.63 L268.06 272.55 L271.55 260.85 L274.97 263.95 L278.31 266.87 L281.59 269.65 L284.81 272.28 L287.97 261.74 L291.07 264.51 L294.11 267.16 L297.09 269.68 L300.03 272.08 L302.91 262.48 L305.74 265 L308.53 267.41 L311.26 269.71 L313.96 271.91 L316.61 263.11 L319.22 265.41 L321.79 267.62 L324.32 269.75 L326.81 271.79 L329.27 263.65 L331.69 265.78 L334.07 267.82 L336.42 269.79 L338.74 271.68 L341.02 264.12 L343.28 266.1 L345.5 268 L347.7 269.83 L349.86 271.6 L352 264.54 L354.11 266.38 L356.2 268.16 L358.26 269.87 L360.29 271.53 L362.3 264.92 L364.28 266.64 L366.24 268.3 L368.18 269.92 L370.1 271.48 L371.99 265.25 L373.86 266.87 L375.71 268.43 L377.55 269.96 L379.36 271.44 L381.15 265.55 L382.92 267.08 L384.67 268.56 L386.41 270 L388.13 271.4 L389.83 265.83 L391.51 267.27 L393.17 268.67 L394.82 270.04 L396.45 271.37 L398.07 266.08 L399.67 267.44 L401.26 268.78 L402.83 270.08 L404.38 271.35 L405.93 266.3 L407.45 267.61 L408.97 268.88 L410.47 270.12 L411.95 271.33 L413.43 266.52 L414.89 267.76 L416.33 268.97 L417.77 270.16 L419.19 271.32 L420.6 266.71 L422 267.9 L423.39 269.06 L424.76 270.19 L426.12 271.3 L427.48 266.89 L428.82 268.03 L430.15 269.14 L431.47 270.23 L432.78 271.3 L434.08 267.06 L435.37 268.15 L436.65 269.22 L437.92 270.27 L439.18 271.29 L440.43 267.22 L441.67 268.27 L442.9 269.29 L444.13 270.3 L445.34 271.29 L446.55 267.37 L447.74 268.37 L448.93 269.36 L450.11 270.33 L451.28 271.29 L452.44 267.51 L453.6 268.48 L454.74 269.43 L455.88 270.37 L457.01 271.28 L458.14 267.64 L459.25 268.57 L460.36 269.49 L461.46 270.4 L462.56 271.29 L463.64 267.76 L464.72 268.66 L465.8 269.55 L466.86 270.43 L467.92 271.29 L468.97 267.88 L470.02 268.75 L471.06 269.61 L472.09 270.46 L473.12 271.29 L474.13 267.99 L475.15 268.83 L476.16 269.67 L477.16 270.49 L478.15 271.3 L479.14 268.09 L480.13 268.91 L481.1 269.72 L482.07 270.52 L483.04 271.3 L484 268.19 L484.96 268.99 L485.91 269.77 L486.85 270.54 L487.79 271.31 L488.72 268.29 L489.65 269.06 L490.57 269.82 L491.49 270.57 L492.41 271.31 L493.31 268.38 L494.22 269.13 L495.11 269.87 L496.01 270.6 L496.9 271.32 L497.78 268.46 L498.66 269.19 L499.53 269.91 L500.4 270.62 L501.27 271.32 L502.13 268.54 L502.99 269.26 L503.84 269.96 L504.69 270.65 L505.53 271.33 L506.37 268.62 L507.2 269.32 L508.03 270 L508.86 270.67 L509.68 271.34 L510.5 268.7 L511.31 269.37 L512.13 270.04 L512.93 270.7 L513.73 271.35 L514.53 268.77 L515.33 269.43 L516.12 270.08 L516.91 270.72 L517.69 271.36 L518.47 268.84 L519.24 269.48 L520.02 270.12 L520.79 270.74 L521.55 271.36 L522.31 268.91 L523.07 269.54 L523.83 270.16 L524.58 270.77 L525.33 271.37 L526.07 268.97 L526.81 269.59 L527.55 270.19 L528.29 270.79 L529.02 271.38 L529.75 269.04 L530.47 269.63 L531.19 270.23 L531.91 270.81 L532.63 271.39 L533.34 269.1 L534.05 269.68 L534.76 270.26 L535.46 270.83 L536.16 271.4 L536.86 269.15 L537.55 269.73 L538.25 270.29 L538.93 270.85 L539.62 271.41 L540.3 269.21 L540.98 269.77 L541.66 270.32 L542.34 270.87 L543.01 271.42 L543.68 269.26 L544.35 269.81 L545.01 270.36 L545.67 270.89 L546.33 271.42 L546.99 269.32 L547.64 269.85 L548.29 270.39 L548.94 270.91 L549.59 271.43 L550.23 269.37 L550.87 269.89 L551.51 270.42 L552.15 270.93 L552.78 271.44 L553.41 269.42 L554.04 269.93 L554.67 270.44 L555.29 270.95 L555.91 271.45 L556.53 269.46 L557.15 269.97 L557.76 270.47 L558.38 270.97 L558.99 271.46 L559.59 269.51 L560.2 270.01 L560.8 270.5 L561.41 270.99 L562 271.47 L562.6 269.56 L563.2 270.04 L563.79 270.53 L564.38 271 L564.97 271.48 L565.56 269.6 L566.14 270.08 L566.72 270.55 L567.3 271.02 L567.88 271.49 L568.46 269.64 L569.03 270.11 L569.6 270.58 L570.17 271.04 L570.74 271.5 L571.31 269.68 L571.87 270.14 L572.44 270.6 L573 271.06 L573.56 271.51 L574.11 269.72 L574.67 270.18 L575.22 270.63 L575.77 271.07 L576.32 271.52 L576.87 269.76 L577.42 270.21 L577.96 270.65 L578.5 271.09 L579.04 271.52 L579.58 269.8 L580.12 270.24 L580.66 270.67 L581.19 271.1 L581.72 271.53 L582.25 269.84 L582.78 270.27 L583.31 270.7 L583.83 271.12 L584.36 271.54 L584.88 269.87 L585.4 270.3 L585.92 270.72 L586.43 271.14 L586.95 271.55 L587.46 269.91 L587.98 270.33 L588.49 270.74 L588.99 271.15 L589.5 271.56 L590.01 269.94 L590.51 270.35 L591.02 270.76 L591.52 271.17 L592.02 271.57 L592.52 269.97 L593.01 270.38 L593.51 270.78 L594 271.18 L594.49 271.58 L594.99 270.01 L595.47 270.41 L595.96 270.8 L596.45 271.2 L596.93 271.59 L597.42 270.04 L597.9 270.43 L598.38 270.82 L598.86 271.21 L599.34 271.59 L599.82 270.07 L600.29 270.46 L600.77 270.84 L601.24 271.22 L601.71 271.6 L602.18 270.1 L602.65 270.48 L603.12 270.86 L603.58 271.24 L604.05 271.61 L604.51 270.13 L604.97 270.51 L605.43 270.88 L605.89 271.25 L606.35 271.62 L606.81 270.16 L607.27 270.53 L607.72 270.9 L608.17 271.26 L608.63 271.63 L609.08 270.19 L609.53 270.55 L609.97 270.92 L610.42 271.28 L610.87 271.64 L611.31 270.22 L611.76 270.58 L612.2 270.94 L612.64 271.29 L613.08 271.64 L613.52 270.24 L613.96 270.6 L614.39 270.95 L614.83 271.3 L615.26 271.65 L615.7 270.27 L616.13 270.62 L616.56 270.97 L616.99 271.32 L617.42 271.66 L617.85 270.3 L618.27 270.64 L618.7 270.99 L619.12 271.33 L619.55 271.67 L619.97 270.32 L620.39 270.66 L620.81 271 L621.23 271.34 L621.65 271.68 L622.06 270.35 L622.48 270.68 L622.89 271.02 L623.31 271.35 L623.72 271.68 L624.13 270.37 L624.54 270.71 L624.95 271.04 L625.36 271.36 L625.77 271.69 L626.17 270.4 L626.58 270.73 L626.99 271.05 L627.39 271.38 L627.79 271.7 L628.19 270.42 L628.59 270.74 L628.99 271.07 L629.39 271.39 L629.79 271.71 L630.19 270.44 L630.58 270.76 L630.98 271.08 L631.37 271.4 L631.77 271.71 L632.16 270.47 L632.55 270.78 L632.94 271.1 L633.33 271.41 L633.72 271.72 L634.1 270.49 L634.49 270.8 L634.88 271.11 L635.26 271.42 L635.65 271.73 L636.03 270.51 L636.41 270.82 L636.79 271.13 L637.17 271.43 L637.55 271.74 L637.93 270.53 L638.31 270.84 L638.69 271.14 L639.06 271.44 L639.44 271.74 L639.81 270.55 L640.19 270.86 L640.56 271.16 L640.93 271.46 L641.3 271.75 L641.67 270.57 L642.04 270.87 L642.41 271.17 L642.78 271.47 L643.15 271.76 L643.51 270.59 L643.88 270.89 L644.24 271.18 L644.61 271.48 L644.97 271.77 L645.33 270.61 L645.69 270.91 L646.05 271.2 L646.41 271.49 L646.77 271.77 L647.13 270.63 L647.49 270.92 L647.84 271.21 L648.2 271.5 L648.56 271.78 L648.91 270.65 L649.26 270.94 L649.62 271.22 L649.97 271.51 L650.32 271.79 L650.67 270.67 L651.02 270.96 L651.37 271.24 L651.72 271.52 L652.07 271.8 L652.41 270.69 L652.76 270.97 L653.11 271.25 L653.45 271.53 L653.79 271.8 L654.14 270.71 L654.48 270.99 L654.82 271.26 L655.16 271.54 L655.5 271.81 L655.84 270.73 L656.18 271 L656.52 271.28 L656.86 271.55 L657.2 271.82 L657.53 270.75 L657.87 271.02 L658.2 271.29 L658.54 271.56 L658.87 271.82 L659.21 270.76 L659.54 271.03 L659.87 271.3 L660.2 271.57 L660.53 271.83 L660.86 270.78 L661.19 271.05 L661.52 271.31 L661.85 271.57 L662.17 271.84 L662.5 270.8 L662.83 271.06 L663.15 271.32 L663.48 271.58 L663.8 271.84"/><path d="M89.5 162.49 L99.55 181.82 L109.02 198.07 L117.98 161.32 L126.48 177.87 L134.56 192.14 L142.27 160.6 L149.64 175.04 L156.69 187.75 L163.45 160.14 L169.95 172.95 L176.21 184.39 L182.23 194.66 L188.05 171.35 L193.67 181.74 L199.1 191.18 L204.36 170.1 L209.46 179.62 L214.41 188.33 L219.21 169.1 L223.88 177.87 L228.42 185.97 L232.84 193.45 L237.14 176.43 L241.34 183.98 L245.43 191 L249.42 175.21 L253.32 182.28 L257.13 188.9 L260.85 174.17 L264.5 180.83 L268.06 187.08 L271.55 192.95 L274.97 179.56 L278.31 185.48 L281.59 191.07 L284.81 178.46 L287.97 184.08 L291.07 189.41 L294.11 177.49 L297.09 182.84 L300.03 187.92 L302.91 192.76 L305.74 181.73 L308.53 186.59 L311.26 191.23 L313.96 180.74 L316.61 185.4 L319.22 189.85 L321.79 179.84 L324.32 184.32 L326.81 188.6 L329.27 192.7 L331.69 183.33 L334.07 187.46 L336.42 191.41 L338.74 182.44 L341.02 186.41 L343.28 190.24 L345.5 181.62 L347.7 185.46 L349.86 189.15 L352 192.72 L354.11 184.58 L356.2 188.16 L358.26 191.61 L360.29 183.77 L362.3 187.23 L364.28 190.58 L366.24 183.02 L368.18 186.38 L370.1 189.63 L371.99 192.77 L373.86 185.58 L375.71 188.74 L377.55 191.8 L379.36 184.84 L381.15 187.91 L382.92 190.89 L384.67 184.15 L386.41 187.13 L388.13 190.03 L389.83 192.85 L391.51 186.41 L393.17 189.23 L394.82 191.98 L396.45 185.73 L398.07 188.48 L399.67 191.16 L401.26 185.09 L402.83 187.77 L404.38 190.39 L405.93 192.94 L407.45 187.11 L408.97 189.66 L410.47 192.15 L411.95 186.48 L413.43 188.97 L414.89 191.41 L416.33 185.88 L417.77 188.32 L419.19 190.71 L420.6 193.03 L422 187.71 L423.39 190.04 L424.76 192.32 L426.12 187.12 L427.48 189.41 L428.82 191.64 L430.15 186.56 L431.47 188.8 L432.78 190.99 L434.08 193.13 L435.37 188.23 L436.65 190.37 L437.92 192.47 L439.18 187.68 L440.43 189.79 L441.67 191.85 L442.9 187.16 L444.13 189.22 L445.34 191.25 L446.55 193.23 L447.74 188.69 L448.93 190.67 L450.11 192.62 L451.28 188.18 L452.44 190.13 L453.6 192.04 L454.74 187.68 L455.88 189.6 L457.01 191.48 L458.14 193.32 L459.25 189.1 L460.36 190.95 L461.46 192.76 L462.56 188.62 L463.64 190.43 L464.72 192.22 L465.8 188.15 L466.86 189.94 L467.92 191.69 L468.97 193.42 L470.02 189.47 L471.06 191.19 L472.09 192.89 L473.12 189.01 L474.13 190.71 L475.15 192.38 L476.16 188.57 L477.16 190.25 L478.15 191.89 L479.14 193.51 L480.13 189.8 L481.1 191.42 L482.07 193.01 L483.04 189.37 L484 190.96 L484.96 192.54 L485.91 188.95 L486.85 190.52 L487.79 192.07 L488.72 193.6 L489.65 190.1 L490.57 191.63 L491.49 193.13 L492.41 189.69 L493.31 191.2 L494.22 192.68 L495.11 189.29 L496.01 190.78 L496.9 192.24 L497.78 193.69 L498.66 190.38 L499.53 191.82 L500.4 193.24 L501.27 189.99 L502.13 191.41 L502.99 192.82 L503.84 189.61 L504.69 191.02 L505.53 192.4 L506.37 193.77 L507.2 190.63 L508.03 192 L508.86 193.35 L509.68 190.26 L510.5 191.61 L511.31 192.95 L512.13 189.9 L512.93 191.23 L513.73 192.55 L514.53 193.85 L515.33 190.87 L516.12 192.17 L516.91 193.45 L517.69 190.51 L518.47 191.8 L519.24 193.07 L520.02 190.16 L520.79 191.44 L521.55 192.69 L522.31 193.93 L523.07 191.08 L523.83 192.33 L524.58 193.55 L525.33 190.74 L526.07 191.97 L526.81 193.18 L527.55 190.41 L528.29 191.62 L529.02 192.82 L529.75 194.01 L530.47 191.29 L531.19 192.47 L531.91 193.64 L532.63 190.96 L533.34 192.13 L534.05 193.29 L534.76 190.64 L535.46 191.8 L536.16 192.95 L536.86 194.08 L537.55 191.48 L538.25 192.61 L538.93 193.73 L539.62 191.16 L540.3 192.29 L540.98 193.4 L541.66 190.86 L542.34 191.97 L543.01 193.07 L543.68 194.15 L544.35 191.66 L545.01 192.74 L545.67 193.82 L546.33 191.35 L546.99 192.43 L547.64 193.5 L548.29 191.06 L548.94 192.12 L549.59 193.18 L550.23 194.22 L550.87 191.82 L551.51 192.87 L552.15 193.9 L552.78 191.53 L553.41 192.57 L554.04 193.59 L554.67 191.25 L555.29 192.27 L555.91 193.29 L556.53 194.29 L557.15 191.98 L557.76 192.99 L558.38 193.98 L558.99 191.7 L559.59 192.7 L560.2 193.68 L560.8 191.42 L561.41 192.41 L562 193.39 L562.6 194.35 L563.2 192.13 L563.79 193.1 L564.38 194.06 L564.97 191.86 L565.56 192.82 L566.14 193.77 L566.72 191.59 L567.3 192.54 L567.88 193.48 L568.46 194.42 L569.03 192.27 L569.6 193.21 L570.17 194.13 L570.74 192.01 L571.31 192.93 L571.87 193.85 L572.44 191.75 L573 192.67 L573.56 193.58 L574.11 194.48 L574.67 192.41 L575.22 193.31 L575.77 194.2 L576.32 192.15 L576.87 193.05 L577.42 193.93 L577.96 191.9 L578.5 192.79 L579.04 193.67 L579.58 194.54 L580.12 192.53 L580.66 193.41 L581.19 194.27 L581.72 192.29 L582.25 193.15 L582.78 194.01 L583.31 192.04 L583.83 192.9 L584.36 193.75 L584.88 194.59 L585.4 192.66 L585.92 193.5 L586.43 194.34 L586.95 192.42 L587.46 193.25 L587.98 194.08 L588.49 192.18 L588.99 193.01 L589.5 193.83 L590.01 194.65 L590.51 192.77 L591.02 193.59 L591.52 194.4 L592.02 192.54 L592.52 193.35 L593.01 194.15 L593.51 192.31 L594 193.11 L594.49 193.91 L594.99 194.7 L595.47 192.88 L595.96 193.68 L596.45 194.46 L596.93 192.66 L597.42 193.44 L597.9 194.22 L598.38 192.43 L598.86 193.21 L599.34 193.99 L599.82 194.76 L600.29 192.99 L600.77 193.76 L601.24 194.52 L601.71 192.77 L602.18 193.53 L602.65 194.29 L603.12 192.55 L603.58 193.31 L604.05 194.06 L604.51 194.81 L604.97 193.09 L605.43 193.84 L605.89 194.58 L606.35 192.88 L606.81 193.62 L607.27 194.35 L607.72 192.66 L608.17 193.4 L608.63 194.13 L609.08 194.86 L609.53 193.19 L609.97 193.91 L610.42 194.64 L610.87 192.98 L611.31 193.7 L611.76 194.42 L612.2 192.77 L612.64 193.49 L613.08 194.2 L613.52 194.91 L613.96 193.28 L614.39 193.99 L614.83 194.69 L615.26 193.08 L615.7 193.78 L616.13 194.48 L616.56 192.88 L616.99 193.57 L617.42 194.27 L617.85 194.95 L618.27 193.37 L618.7 194.06 L619.12 194.74 L619.55 193.17 L619.97 193.86 L620.39 194.53 L620.81 192.98 L621.23 193.66 L621.65 194.33 L622.06 195 L622.48 193.46 L622.89 194.13 L623.31 194.79 L623.72 193.26 L624.13 193.93 L624.54 194.59 L624.95 193.07 L625.36 193.73 L625.77 194.39 L626.17 195.05 L626.58 193.54 L626.99 194.2 L627.39 194.84 L627.79 193.35 L628.19 194 L628.59 194.65 L628.99 193.16 L629.39 193.81 L629.79 194.45 L630.19 195.09 L630.58 193.62 L630.98 194.26 L631.37 194.89 L631.77 193.44 L632.16 194.07 L632.55 194.7 L632.94 193.25 L633.33 193.88 L633.72 194.51 L634.1 195.13 L634.49 193.7 L634.88 194.32 L635.26 194.94 L635.65 193.52 L636.03 194.14 L636.41 194.75 L636.79 193.34 L637.17 193.96 L637.55 194.57 L637.93 195.17 L638.31 193.78 L638.69 194.38 L639.06 194.99 L639.44 193.6 L639.81 194.2 L640.19 194.8 L640.56 193.42 L640.93 194.02 L641.3 194.62 L641.67 195.22 L642.04 193.85 L642.41 194.44 L642.78 195.03 L643.15 193.67 L643.51 194.27 L643.88 194.85 L644.24 193.5 L644.61 194.09 L644.97 194.67 L645.33 195.26 L645.69 193.92 L646.05 194.5 L646.41 195.08 L646.77 193.75 L647.13 194.33 L647.49 194.9 L647.84 193.58 L648.2 194.16 L648.56 194.73 L648.91 195.29 L649.26 193.99 L649.62 194.56 L649.97 195.12 L650.32 193.82 L650.67 194.39 L651.02 194.95 L651.37 193.66 L651.72 194.22 L652.07 194.78 L652.41 195.33 L652.76 194.05 L653.11 194.61 L653.45 195.16 L653.79 193.89 L654.14 194.44 L654.48 194.99 L654.82 193.73 L655.16 194.28 L655.5 194.83 L655.84 195.37 L656.18 194.12 L656.52 194.66 L656.86 195.2 L657.2 193.96 L657.53 194.5 L657.87 195.04 L658.2 193.8 L658.54 194.34 L658.87 194.87 L659.21 195.41 L659.54 194.18 L659.87 194.71 L660.2 195.24 L660.53 194.02 L660.86 194.55 L661.19 195.08 L661.52 193.87 L661.85 194.4 L662.17 194.92 L662.5 195.44 L662.83 194.24 L663.15 194.76 L663.48 195.28 L663.8 194.09"/><path d="M89.5 91.7 L99.55 45.72 L109.02 76.72 L117.98 35.68 L126.48 64.61 L134.56 89.38 L142.27 54.66 L149.64 78.14 L156.69 46.34 L163.45 68.63 L169.95 88.32 L176.21 60.48 L182.23 79.35 L188.05 53.42 L193.67 71.52 L199.1 87.85 L204.36 64.62 L209.46 80.39 L214.41 58.52 L219.21 73.73 L223.88 87.67 L228.42 67.76 L232.84 81.28 L237.14 62.38 L241.34 75.5 L245.43 87.64 L249.42 70.23 L253.32 82.06 L257.13 65.43 L260.85 76.95 L264.5 87.71 L268.06 72.25 L271.55 82.76 L274.97 67.91 L278.31 78.18 L281.59 87.83 L284.81 73.93 L287.97 83.38 L291.07 69.98 L294.11 79.23 L297.09 87.99 L300.03 75.36 L302.91 83.94 L305.74 71.73 L308.53 80.15 L311.26 88.16 L313.96 76.59 L316.61 84.45 L319.22 73.24 L321.79 80.97 L324.32 88.34 L326.81 77.67 L329.27 84.92 L331.69 74.56 L334.07 81.69 L336.42 88.52 L338.74 78.63 L341.02 85.35 L343.28 75.72 L345.5 82.34 L347.7 88.71 L349.86 79.48 L352 85.75 L354.11 76.75 L356.2 82.93 L358.26 88.89 L360.29 80.25 L362.3 86.12 L364.28 77.68 L366.24 83.48 L368.18 89.07 L370.1 80.94 L371.99 86.47 L373.86 78.52 L375.71 83.97 L377.55 89.25 L379.36 81.58 L381.15 86.79 L382.92 79.28 L384.67 84.43 L386.41 89.42 L388.13 82.16 L389.83 87.09 L391.51 79.98 L393.17 84.85 L394.82 89.59 L396.45 82.7 L398.07 87.38 L399.67 80.62 L401.26 85.25 L402.83 89.75 L404.38 83.19 L405.93 87.65 L407.45 81.21 L408.97 85.62 L410.47 89.91 L411.95 83.65 L413.43 87.9 L414.89 81.75 L416.33 85.96 L417.77 90.06 L419.19 84.08 L420.6 88.15 L422 82.26 L423.39 86.29 L424.76 90.21 L426.12 84.49 L427.48 88.38 L428.82 82.74 L430.15 86.59 L431.47 90.36 L432.78 84.86 L434.08 88.6 L435.37 83.18 L436.65 86.88 L437.92 90.5 L439.18 85.22 L440.43 88.81 L441.67 83.6 L442.9 87.16 L444.13 90.64 L445.34 85.56 L446.55 89.01 L447.74 84 L448.93 87.42 L450.11 90.77 L451.28 85.87 L452.44 89.2 L453.6 84.37 L454.74 87.67 L455.88 90.9 L457.01 86.17 L458.14 89.38 L459.25 84.72 L460.36 87.9 L461.46 91.02 L462.56 86.46 L463.64 89.56 L464.72 85.05 L465.8 88.13 L466.86 91.14 L467.92 86.73 L468.97 89.73 L470.02 85.37 L471.06 88.34 L472.09 91.26 L473.12 86.99 L474.13 89.89 L475.15 85.67 L476.16 88.55 L477.16 91.38 L478.15 87.24 L479.14 90.05 L480.13 85.95 L481.1 88.75 L482.07 91.49 L483.04 87.47 L484 90.2 L484.96 86.22 L485.91 88.94 L486.85 91.6 L487.79 87.7 L488.72 90.35 L489.65 86.49 L490.57 89.12 L491.49 91.71 L492.41 87.91 L493.31 90.49 L494.22 86.74 L495.11 89.29 L496.01 91.81 L496.9 88.12 L497.78 90.62 L498.66 86.97 L499.53 89.46 L500.4 91.91 L501.27 88.32 L502.13 90.76 L502.99 87.2 L503.84 89.62 L504.69 92.01 L505.53 88.51 L506.37 90.89 L507.2 87.42 L508.03 89.78 L508.86 92.11 L509.68 88.7 L510.5 91.01 L511.31 87.64 L512.13 89.93 L512.93 92.2 L513.73 88.88 L514.53 91.13 L515.33 87.84 L516.12 90.08 L516.91 92.29 L517.69 89.05 L518.47 91.25 L519.24 88.04 L520.02 90.22 L520.79 92.38 L521.55 89.22 L522.31 91.36 L523.07 88.22 L523.83 90.36 L524.58 92.47 L525.33 89.38 L526.07 91.47 L526.81 88.41 L527.55 90.49 L528.29 92.55 L529.02 89.53 L529.75 91.58 L530.47 88.58 L531.19 90.62 L531.91 92.64 L532.63 89.68 L533.34 91.69 L534.05 88.75 L534.76 90.75 L535.46 92.72 L536.16 89.83 L536.86 91.79 L537.55 88.92 L538.25 90.87 L538.93 92.8 L539.62 89.97 L540.3 91.89 L540.98 89.08 L541.66 90.99 L542.34 92.88 L543.01 90.11 L543.68 91.98 L544.35 89.23 L545.01 91.11 L545.67 92.95 L546.33 90.24 L546.99 92.08 L547.64 89.38 L548.29 91.22 L548.94 93.03 L549.59 90.37 L550.23 92.17 L550.87 89.53 L551.51 91.33 L552.15 93.1 L552.78 90.49 L553.41 92.26 L554.04 89.67 L554.67 91.43 L555.29 93.18 L555.91 90.62 L556.53 92.35 L557.15 89.81 L557.76 91.54 L558.38 93.25 L558.99 90.74 L559.59 92.44 L560.2 89.94 L560.8 91.64 L561.41 93.32 L562 90.85 L562.6 92.52 L563.2 90.07 L563.79 91.74 L564.38 93.38 L564.97 90.96 L565.56 92.6 L566.14 90.2 L566.72 91.83 L567.3 93.45 L567.88 91.07 L568.46 92.68 L569.03 90.32 L569.6 91.93 L570.17 93.52 L570.74 91.18 L571.31 92.76 L571.87 90.44 L572.44 92.02 L573 93.58 L573.56 91.29 L574.11 92.84 L574.67 90.56 L575.22 92.11 L575.77 93.64 L576.32 91.39 L576.87 92.92 L577.42 90.67 L577.96 92.2 L578.5 93.71 L579.04 91.49 L579.58 92.99 L580.12 90.79 L580.66 92.28 L581.19 93.77 L581.72 91.59 L582.25 93.06 L582.78 90.89 L583.31 92.37 L583.83 93.83 L584.36 91.68 L584.88 93.13 L585.4 91 L585.92 92.45 L586.43 93.89 L586.95 91.77 L587.46 93.2 L587.98 91.1 L588.49 92.53 L588.99 93.94 L589.5 91.86 L590.01 93.27 L590.51 91.21 L591.02 92.61 L591.52 94 L592.02 91.95 L592.52 93.34 L593.01 91.3 L593.51 92.69 L594 94.06 L594.49 92.04 L594.99 93.41 L595.47 91.4 L595.96 92.76 L596.45 94.11 L596.93 92.13 L597.42 93.47 L597.9 91.5 L598.38 92.84 L598.86 94.17 L599.34 92.21 L599.82 93.54 L600.29 91.59 L600.77 92.91 L601.24 94.22 L601.71 92.29 L602.18 93.6 L602.65 91.68 L603.12 92.98 L603.58 94.27 L604.05 92.37 L604.51 93.66 L604.97 91.77 L605.43 93.05 L605.89 94.32 L606.35 92.45 L606.81 93.72 L607.27 91.86 L607.72 93.12 L608.17 94.38 L608.63 92.53 L609.08 93.78 L609.53 91.94 L609.97 93.19 L610.42 94.43 L610.87 92.6 L611.31 93.84 L611.76 92.02 L612.2 93.26 L612.64 94.48 L613.08 92.68 L613.52 93.9 L613.96 92.11 L614.39 93.32 L614.83 94.52 L615.26 92.75 L615.7 93.95 L616.13 92.19 L616.56 93.38 L616.99 94.57 L617.42 92.82 L617.85 94.01 L618.27 92.27 L618.7 93.45 L619.12 94.62 L619.55 92.89 L619.97 94.06 L620.39 92.34 L620.81 93.51 L621.23 94.67 L621.65 92.96 L622.06 94.12 L622.48 92.42 L622.89 93.57 L623.31 94.71 L623.72 93.03 L624.13 94.17 L624.54 92.49 L624.95 93.63 L625.36 94.76 L625.77 93.1 L626.17 94.22 L626.58 92.57 L626.99 93.69 L627.39 94.8 L627.79 93.16 L628.19 94.27 L628.59 92.64 L628.99 93.75 L629.39 94.85 L629.79 93.23 L630.19 94.32 L630.58 92.71 L630.98 93.8 L631.37 94.89 L631.77 93.29 L632.16 94.37 L632.55 92.78 L632.94 93.86 L633.33 94.93 L633.72 93.35 L634.1 94.42 L634.49 92.85 L634.88 93.92 L635.26 94.98 L635.65 93.41 L636.03 94.47 L636.41 92.91 L636.79 93.97 L637.17 95.02 L637.55 93.47 L637.93 94.52 L638.31 92.98 L638.69 94.02 L639.06 95.06 L639.44 93.53 L639.81 94.57 L640.19 93.04 L640.56 94.08 L640.93 95.1 L641.3 93.59 L641.67 94.61 L642.04 93.11 L642.41 94.13 L642.78 95.14 L643.15 93.65 L643.51 94.66 L643.88 93.17 L644.24 94.18 L644.61 95.18 L644.97 93.7 L645.33 94.7 L645.69 93.23 L646.05 94.23 L646.41 95.22 L646.77 93.76 L647.13 94.75 L647.49 93.29 L647.84 94.28 L648.2 95.26 L648.56 93.82 L648.91 94.79 L649.26 93.35 L649.62 94.33 L649.97 95.3 L650.32 93.87 L650.67 94.84 L651.02 93.41 L651.37 94.38 L651.72 95.34 L652.07 93.92 L652.41 94.88 L652.76 93.47 L653.11 94.43 L653.45 95.37 L653.79 93.98 L654.14 94.92 L654.48 93.53 L654.82 94.47 L655.16 95.41 L655.5 94.03 L655.84 94.96 L656.18 93.58 L656.52 94.52 L656.86 95.45 L657.2 94.08 L657.53 95 L657.87 93.64 L658.2 94.56 L658.54 95.48 L658.87 94.13 L659.21 95.05 L659.54 93.69 L659.87 94.61 L660.2 95.52 L660.53 94.18 L660.86 95.09 L661.19 93.75 L661.52 94.65 L661.85 95.56 L662.17 94.23 L662.5 95.13 L662.83 93.8 L663.15 94.7 L663.48 95.59 L663.8 94.27"/></g><path d="M89.5 367.29H94.7M658 367.29H663.8" stroke="#000" stroke-width="1.2" fill="none" opacity="0.6"/><rect x="89.5" y="12.8" width="574.3" height="404.9" fill="none" stroke="#000" stroke-width="2.3"/><g transform="translate(70.25,426.88) scale(0.950,1)"><text x="0.00" y="0.00" font-size="26.5" fill="#000">0</text></g><g transform="translate(70.03,325.20) scale(0.950,1)"><text x="0.00" y="0.00" font-size="26.5" fill="#000">2</text></g><g transform="translate(69.50,224.18) scale(0.950,1)"><text x="0.00" y="0.00" font-size="26.5" fill="#000">4</text></g><g transform="translate(70.35,123.38) scale(0.950,1)"><text x="0.00" y="0.00" font-size="26.5" fill="#000">6</text></g><g transform="translate(70.00,21.50) scale(0.900,1)"><text x="0.00" y="0.00" font-size="26.5" fill="#000">8</text></g><g transform="translate(76.50,438.95) scale(0.900,1)"><text x="0.00" y="0.00" font-size="26.5" fill="#000">16</text></g><g transform="translate(191.70,439.20) scale(0.925,1)"><text x="0.00" y="0.00" font-size="26.5" fill="#000">32</text></g><g transform="translate(306.90,439.15) scale(0.915,1)"><text x="0.00" y="0.00" font-size="26.5" fill="#000">64</text></g><g transform="translate(416.35,439.15) scale(0.915,1)"><text x="0.00" y="0.00" font-size="26.5" fill="#000">128</text></g><g transform="translate(531.30,439.15) scale(0.910,1)"><text x="0.00" y="0.00" font-size="26.5" fill="#000">256</text></g><g transform="translate(644.25,439.15) scale(0.915,1)"><text x="0.00" y="0.00" font-size="26.5" fill="#000">512</text></g><text x="365.80" y="475.35" font-size="33" fill="#000" font-style="italic">N</text><g transform="translate(97.15,361.43) scale(0.980,1)"><text x="0.00" y="0.00" font-size="25.5" fill="#2c2cf4">0</text></g><g transform="translate(102.88,307.77) scale(0.980,1)"><text x="0.00" y="0.00" font-size="25.5" fill="#2c2cf4">2</text></g><g transform="translate(115.55,242.85) scale(0.950,1)"><text x="0.00" y="0.00" font-size="25.5" fill="#2c2cf4">4</text></g><g transform="translate(168.25,154.80) scale(0.930,1)"><text x="0.00" y="0.00" font-size="25.5" fill="#2c2cf4">8</text></g><g transform="translate(260.15,109.45) scale(0.960,1)"><text x="0.00" y="0.00" font-size="25.5" fill="#2c2cf4">16</text></g><g transform="translate(353.35,48.73) scale(0.970,1)"><text x="0.00" y="0.00" font-size="25.5" fill="#2c2cf4">32</text></g><g transform="translate(464.40,40.10) scale(0.965,1)"><text x="0.00" y="0.00" font-size="25.5" fill="#2c2cf4" font-style="italic">N</text></g><g transform="translate(481.45,45.90) scale(0.900,1)"><text x="0.00" y="0.00" font-size="16" fill="#2c2cf4">p</text></g><g transform="translate(494.10,42.00) scale(1.030,1)"><text x="0.00" y="0.00" font-size="25.5" fill="#2c2cf4">=</text></g><g transform="translate(514.10,39.95) scale(0.945,1)"><text x="0.00" y="0.00" font-size="25.5" fill="#2c2cf4">64</text></g><g transform="translate(557.70,74.10) scale(0.965,1)"><text x="0.00" y="0.00" font-size="25.5" fill="#d00000" font-style="italic">N</text></g><g transform="translate(574.10,81.15) scale(0.900,1)"><text x="0.00" y="0.00" font-size="16" fill="#d00000">p</text></g><g transform="translate(586.95,75.60) scale(1.080,1)"><text x="0.00" y="0.00" font-size="25.5" fill="#d00000">=</text></g><g transform="translate(607.55,74.25) scale(0.935,1)"><text x="0.00" y="0.00" font-size="25.5" fill="#d00000">0.4</text></g><g transform="translate(638.50,74.15) scale(0.955,1)"><text x="0.00" y="0.00" font-size="25.5" fill="#d00000" font-style="italic">N</text></g><g transform="translate(603.25,186.05) scale(0.975,1)"><text x="0.00" y="0.00" font-size="25.5" fill="#d00000">0.3</text></g><g transform="translate(634.05,186.15) scale(0.955,1)"><text x="0.00" y="0.00" font-size="25.5" fill="#d00000" font-style="italic">N</text></g><g transform="translate(599.95,259.10) scale(0.975,1)"><text x="0.00" y="0.00" font-size="25.5" fill="#d00000">0.2</text></g><g transform="translate(630.75,259.20) scale(0.955,1)"><text x="0.00" y="0.00" font-size="25.5" fill="#d00000" font-style="italic">N</text></g><g transform="translate(564.95,314.95) scale(0.970,1)"><text x="0.00" y="0.00" font-size="25.5" fill="#d00000">0.1</text></g><g transform="translate(595.50,315.05) scale(0.955,1)"><text x="0.00" y="0.00" font-size="25.5" fill="#d00000" font-style="italic">N</text></g><g transform="translate(33.90,407.00) rotate(-90)"><text x="0.60" y="0.00" font-size="33" font-style="italic" fill="#000">N</text><text x="21.00" y="9.80" font-size="20" letter-spacing="0.65" fill="#000">P.E.</text><text x="63.60" y="0.00" font-size="33" fill="#000">log</text><text x="113.00" y="0.00" font-size="33" fill="#000">(</text><text x="126.20" y="0.00" font-size="33" font-style="italic" fill="#000">N</text><text x="147.00" y="9.80" font-size="20" letter-spacing="0.65" fill="#000">P.E.</text><text x="181.40" y="0.00" font-size="33" fill="#000">)</text><text x="200.20" y="0.00" font-size="33" stroke="#000" stroke-width="0.8" fill="#000">/</text><text x="217.00" y="0.00" font-size="33" font-style="italic" fill="#000">N</text><text x="247.40" y="-16.10" font-size="20" fill="#000">3</text><text x="266.00" y="0.00" font-size="33" fill="#000">log</text><text x="316.40" y="0.00" font-size="33" fill="#000">(</text><text x="327.40" y="0.00" font-size="33" font-style="italic" fill="#000">N</text><text x="357.20" y="-16.10" font-size="20" fill="#000">3</text><text x="367.20" y="0.00" font-size="33" fill="#000">)</text></g></svg></body></html>
